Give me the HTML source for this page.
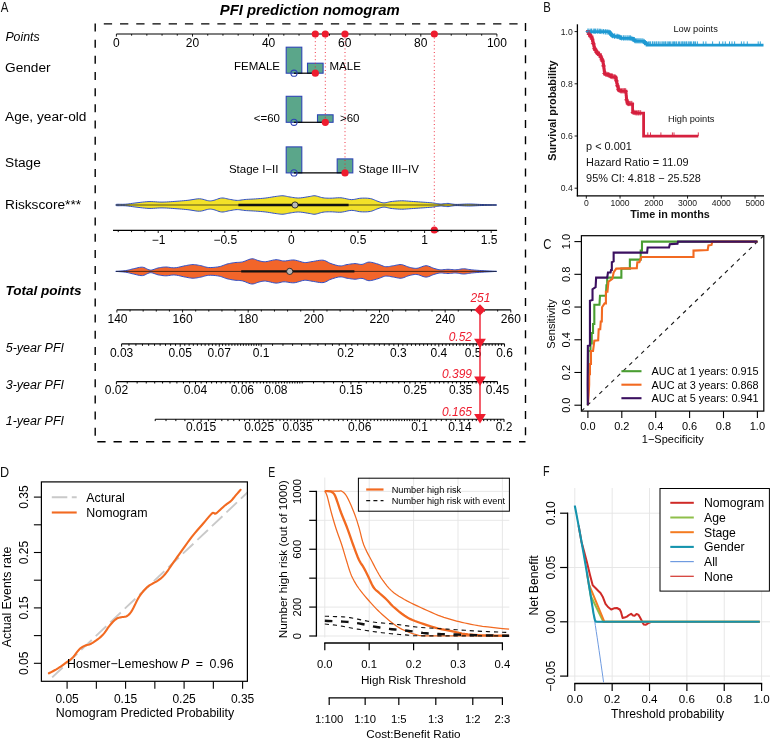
<!DOCTYPE html>
<html><head><meta charset="utf-8"><title>PFI prediction nomogram</title>
<style>
html,body{margin:0;padding:0;background:#fff;}
svg{display:block;font-family:"Liberation Sans",sans-serif;}
</style></head><body>
<svg width="770" height="738" viewBox="0 0 770 738">
<rect x="0" y="0" width="770" height="738" fill="#fff"/>
<g id="panelA">
<text transform="translate(0.8 11.9) scale(0.82 1)" font-size="14" fill="#111">A</text>
<text x="309.7" y="15.3" font-size="14.85" text-anchor="middle" fill="#000" font-weight="bold" font-style="italic" >PFI prediction nomogram</text>
<line x1="103.8" y1="23.9" x2="525.5" y2="23.9" stroke="#000" stroke-width="1.4" stroke-dasharray="8.3 7.92"/>
<line x1="95.2" y1="23.5" x2="95.2" y2="437" stroke="#000" stroke-width="1.4" stroke-dasharray="8 8.17"/>
<line x1="525.5" y1="23" x2="525.5" y2="441.8" stroke="#000" stroke-width="1.4" stroke-dasharray="8 8.17"/>
<line x1="97.3" y1="441.8" x2="525.5" y2="441.8" stroke="#000" stroke-width="1.4" stroke-dasharray="8.3 7.92"/>
<line x1="116.4" y1="34" x2="496.9" y2="34" stroke="#000" stroke-width="1.1" />
<line x1="116.4" y1="34" x2="116.4" y2="36.6" stroke="#000" stroke-width="0.9" />
<line x1="131.62" y1="34" x2="131.62" y2="35.7" stroke="#000" stroke-width="0.9" />
<line x1="146.84" y1="34" x2="146.84" y2="35.7" stroke="#000" stroke-width="0.9" />
<line x1="162.06" y1="34" x2="162.06" y2="35.7" stroke="#000" stroke-width="0.9" />
<line x1="177.28" y1="34" x2="177.28" y2="35.7" stroke="#000" stroke-width="0.9" />
<line x1="192.5" y1="34" x2="192.5" y2="36.6" stroke="#000" stroke-width="0.9" />
<line x1="207.72" y1="34" x2="207.72" y2="35.7" stroke="#000" stroke-width="0.9" />
<line x1="222.94" y1="34" x2="222.94" y2="35.7" stroke="#000" stroke-width="0.9" />
<line x1="238.16" y1="34" x2="238.16" y2="35.7" stroke="#000" stroke-width="0.9" />
<line x1="253.38" y1="34" x2="253.38" y2="35.7" stroke="#000" stroke-width="0.9" />
<line x1="268.6" y1="34" x2="268.6" y2="36.6" stroke="#000" stroke-width="0.9" />
<line x1="283.82" y1="34" x2="283.82" y2="35.7" stroke="#000" stroke-width="0.9" />
<line x1="299.04" y1="34" x2="299.04" y2="35.7" stroke="#000" stroke-width="0.9" />
<line x1="314.26" y1="34" x2="314.26" y2="35.7" stroke="#000" stroke-width="0.9" />
<line x1="329.48" y1="34" x2="329.48" y2="35.7" stroke="#000" stroke-width="0.9" />
<line x1="344.7" y1="34" x2="344.7" y2="36.6" stroke="#000" stroke-width="0.9" />
<line x1="359.92" y1="34" x2="359.92" y2="35.7" stroke="#000" stroke-width="0.9" />
<line x1="375.14" y1="34" x2="375.14" y2="35.7" stroke="#000" stroke-width="0.9" />
<line x1="390.36" y1="34" x2="390.36" y2="35.7" stroke="#000" stroke-width="0.9" />
<line x1="405.58" y1="34" x2="405.58" y2="35.7" stroke="#000" stroke-width="0.9" />
<line x1="420.8" y1="34" x2="420.8" y2="36.6" stroke="#000" stroke-width="0.9" />
<line x1="436.02" y1="34" x2="436.02" y2="35.7" stroke="#000" stroke-width="0.9" />
<line x1="451.24" y1="34" x2="451.24" y2="35.7" stroke="#000" stroke-width="0.9" />
<line x1="466.46" y1="34" x2="466.46" y2="35.7" stroke="#000" stroke-width="0.9" />
<line x1="481.68" y1="34" x2="481.68" y2="35.7" stroke="#000" stroke-width="0.9" />
<line x1="496.9" y1="34" x2="496.9" y2="36.6" stroke="#000" stroke-width="0.9" />
<text x="116.4" y="46.7" font-size="12" text-anchor="middle" fill="#000" font-weight="normal" font-style="normal" >0</text>
<text x="192.5" y="46.7" font-size="12" text-anchor="middle" fill="#000" font-weight="normal" font-style="normal" >20</text>
<text x="268.6" y="46.7" font-size="12" text-anchor="middle" fill="#000" font-weight="normal" font-style="normal" >40</text>
<text x="344.7" y="46.7" font-size="12" text-anchor="middle" fill="#000" font-weight="normal" font-style="normal" >60</text>
<text x="420.8" y="46.7" font-size="12" text-anchor="middle" fill="#000" font-weight="normal" font-style="normal" >80</text>
<text x="496.9" y="46.7" font-size="12" text-anchor="middle" fill="#000" font-weight="normal" font-style="normal" >100</text>
<text x="5.4" y="40.8" font-size="12.35" text-anchor="start" fill="#000" font-weight="normal" font-style="italic" >Points</text>
<text x="5" y="72.2" font-size="13.7" text-anchor="start" fill="#000" font-weight="normal" font-style="normal" >Gender</text>
<text x="5" y="121" font-size="13.7" text-anchor="start" fill="#000" font-weight="normal" font-style="normal" >Age, year-old</text>
<text x="5" y="167.4" font-size="13.7" text-anchor="start" fill="#000" font-weight="normal" font-style="normal" >Stage</text>
<text x="5" y="208.5" font-size="13.7" text-anchor="start" fill="#000" font-weight="normal" font-style="normal" >Riskscore***</text>
<text x="5.4" y="294.6" font-size="13.55" text-anchor="start" fill="#000" font-weight="bold" font-style="italic" >Total points</text>
<text x="5.7" y="352.3" font-size="12.5" text-anchor="start" fill="#000" font-weight="normal" font-style="italic" >5-year PFI</text>
<text x="5.7" y="388.6" font-size="12.5" text-anchor="start" fill="#000" font-weight="normal" font-style="italic" >3-year PFI</text>
<text x="5.7" y="424.5" font-size="12.5" text-anchor="start" fill="#000" font-weight="normal" font-style="italic" >1-year PFI</text>
<rect x="286.2" y="47.2" width="15.6" height="26" fill="#5ba68a" stroke="#2f45b5" stroke-width="1.1"/>
<rect x="307.5" y="63.2" width="15.6" height="10" fill="#5ba68a" stroke="#2f45b5" stroke-width="1.1"/>
<line x1="294" y1="73.2" x2="315.3" y2="73.2" stroke="#000" stroke-width="1.2" />
<circle cx="294" cy="73.2" r="3.1" fill="none" stroke="#2f45b5" stroke-width="1.1"/>
<text x="280" y="69.6" font-size="11.5" text-anchor="end" fill="#000" font-weight="normal" font-style="normal" >FEMALE</text>
<text x="329.5" y="69.6" font-size="11.5" text-anchor="start" fill="#000" font-weight="normal" font-style="normal" >MALE</text>
<rect x="286.2" y="96.3" width="15.6" height="26" fill="#5ba68a" stroke="#2f45b5" stroke-width="1.1"/>
<rect x="317.5" y="114.8" width="15.6" height="7.5" fill="#5ba68a" stroke="#2f45b5" stroke-width="1.1"/>
<line x1="294" y1="122.3" x2="325.3" y2="122.3" stroke="#000" stroke-width="1.2" />
<circle cx="294" cy="122.3" r="3.1" fill="none" stroke="#2f45b5" stroke-width="1.1"/>
<text x="280" y="122" font-size="11.5" text-anchor="end" fill="#000" font-weight="normal" font-style="normal" >&lt;=60</text>
<text x="340" y="122" font-size="11.5" text-anchor="start" fill="#000" font-weight="normal" font-style="normal" >&gt;60</text>
<rect x="286.2" y="146.9" width="15.6" height="26" fill="#5ba68a" stroke="#2f45b5" stroke-width="1.1"/>
<rect x="337.2" y="158.9" width="15.6" height="14" fill="#5ba68a" stroke="#2f45b5" stroke-width="1.1"/>
<line x1="294" y1="172.9" x2="345" y2="172.9" stroke="#000" stroke-width="1.2" />
<circle cx="294" cy="172.9" r="3.1" fill="none" stroke="#2f45b5" stroke-width="1.1"/>
<text x="278.5" y="173.3" font-size="11.5" text-anchor="end" fill="#000" font-weight="normal" font-style="normal" >Stage I−II</text>
<text x="358.5" y="173.3" font-size="11.5" text-anchor="start" fill="#000" font-weight="normal" font-style="normal" >Stage III−IV</text>
<line x1="315.3" y1="34" x2="315.3" y2="73.2" stroke="#ee1c2e" stroke-width="0.9" stroke-dasharray="1 2.6"/>
<line x1="325.3" y1="34" x2="325.3" y2="122.3" stroke="#ee1c2e" stroke-width="0.9" stroke-dasharray="1 2.6"/>
<line x1="345" y1="34" x2="345" y2="172.9" stroke="#ee1c2e" stroke-width="0.9" stroke-dasharray="1 2.6"/>
<line x1="434.3" y1="34" x2="434.3" y2="230" stroke="#ee1c2e" stroke-width="0.9" stroke-dasharray="1 2.6"/>
<circle cx="315.3" cy="34" r="3.6" fill="#ee1c2e"/>
<circle cx="325.3" cy="34" r="3.6" fill="#ee1c2e"/>
<circle cx="345" cy="34" r="3.6" fill="#ee1c2e"/>
<circle cx="434.3" cy="34" r="3.6" fill="#ee1c2e"/>
<circle cx="315.3" cy="73.2" r="3.6" fill="#ee1c2e"/>
<circle cx="325.3" cy="122.3" r="3.6" fill="#ee1c2e"/>
<circle cx="345" cy="172.9" r="3.6" fill="#ee1c2e"/>
<circle cx="434.3" cy="230" r="3.6" fill="#ee1c2e"/>
<path d="M115.7 205 L115.76 204.92 L115.77 204.8 L115.81 204.66 L115.98 204.51 L116.35 204.39 L117 204.3 L117.99 204.26 L119.26 204.27 L120.73 204.29 L122.33 204.3 L123.98 204.28 L125.6 204.2 L127.2 204.05 L128.84 203.86 L130.52 203.62 L132.27 203.38 L134.1 203.13 L136 202.9 L138.02 202.66 L140.14 202.4 L142.34 202.14 L144.57 201.9 L146.8 201.71 L149 201.6 L151.17 201.59 L153.34 201.68 L155.51 201.81 L157.67 201.96 L159.84 202.07 L162 202.1 L164.15 202.06 L166.3 201.97 L168.45 201.85 L170.6 201.71 L172.75 201.55 L174.9 201.4 L177.08 201.24 L179.27 201.08 L181.47 200.9 L183.66 200.71 L185.81 200.51 L187.9 200.3 L189.96 200.03 L191.99 199.7 L193.99 199.36 L195.94 199.06 L197.82 198.85 L199.6 198.8 L201.31 198.96 L202.97 199.3 L204.56 199.74 L206.05 200.19 L207.44 200.57 L208.7 200.8 L209.76 200.88 L210.63 200.89 L211.38 200.82 L212.12 200.69 L212.93 200.52 L213.9 200.3 L215.05 199.98 L216.31 199.53 L217.64 199.04 L219 198.57 L220.37 198.2 L221.7 198 L223 198.01 L224.3 198.17 L225.6 198.44 L226.9 198.75 L228.2 199.05 L229.5 199.3 L230.8 199.52 L232.1 199.76 L233.4 199.99 L234.7 200.19 L236 200.33 L237.3 200.4 L238.57 200.36 L239.8 200.24 L241.04 200.06 L242.31 199.85 L243.65 199.66 L245.1 199.5 L246.68 199.39 L248.38 199.29 L250.14 199.2 L251.94 199.11 L253.74 199.01 L255.5 198.9 L257.22 198.78 L258.94 198.65 L260.65 198.51 L262.36 198.36 L264.08 198.19 L265.8 198 L267.57 197.76 L269.39 197.48 L271.22 197.18 L273 196.89 L274.67 196.62 L276.2 196.4 L277.54 196.22 L278.73 196.06 L279.81 195.93 L280.85 195.83 L281.9 195.78 L283 195.8 L284.14 195.9 L285.26 196.07 L286.38 196.3 L287.53 196.55 L288.73 196.79 L290 197 L291.33 197.21 L292.71 197.44 L294.14 197.66 L295.61 197.85 L297.13 197.97 L298.7 198 L300.39 197.9 L302.21 197.69 L304.08 197.41 L305.9 197.11 L307.61 196.83 L309.1 196.6 L310.32 196.4 L311.32 196.19 L312.2 195.99 L313.04 195.84 L313.95 195.76 L315 195.8 L316.21 195.99 L317.51 196.32 L318.87 196.72 L320.26 197.15 L321.64 197.53 L323 197.8 L324.31 197.97 L325.59 198.08 L326.88 198.15 L328.19 198.19 L329.55 198.2 L331 198.2 L332.55 198.15 L334.17 198.04 L335.84 197.91 L337.56 197.8 L339.28 197.75 L341 197.8 L342.73 198.01 L344.5 198.36 L346.28 198.76 L348.06 199.16 L349.8 199.46 L351.5 199.6 L353.14 199.53 L354.74 199.3 L356.31 198.99 L357.87 198.65 L359.43 198.37 L361 198.2 L362.61 198.13 L364.24 198.11 L365.88 198.14 L367.48 198.22 L369.03 198.37 L370.5 198.6 L371.88 198.94 L373.2 199.4 L374.47 199.93 L375.69 200.47 L376.86 200.98 L378 201.4 L379.08 201.76 L380.07 202.1 L381.03 202.41 L381.98 202.66 L382.96 202.83 L384 202.9 L385.07 202.84 L386.14 202.66 L387.23 202.39 L388.39 202.1 L389.63 201.82 L391 201.6 L392.52 201.42 L394.19 201.24 L395.94 201.08 L397.74 200.94 L399.54 200.85 L401.3 200.8 L403.03 200.82 L404.76 200.89 L406.49 201.01 L408.23 201.14 L409.97 201.28 L411.7 201.4 L413.43 201.51 L415.17 201.62 L416.9 201.74 L418.63 201.86 L420.37 201.98 L422.1 202.1 L423.86 202.22 L425.66 202.35 L427.46 202.47 L429.23 202.61 L430.92 202.75 L432.5 202.9 L433.95 203.09 L435.3 203.31 L436.57 203.54 L437.8 203.75 L439.04 203.91 L440.3 204 L441.59 203.98 L442.87 203.87 L444.15 203.71 L445.43 203.54 L446.71 203.43 L448 203.4 L449.23 203.49 L450.4 203.67 L451.57 203.89 L452.81 204.11 L454.2 204.3 L455.8 204.4 L457.67 204.4 L459.75 204.34 L461.98 204.23 L464.27 204.12 L466.57 204.03 L468.8 204 L470.95 204.03 L473.07 204.1 L475.19 204.19 L477.33 204.3 L479.53 204.41 L481.8 204.5 L484.33 204.59 L487.15 204.69 L490.01 204.78 L492.7 204.87 L494.97 204.95 L496.6 205 L496.6 205 L494.97 205.05 L492.7 205.13 L490.01 205.22 L487.15 205.31 L484.33 205.41 L481.8 205.5 L479.53 205.59 L477.33 205.7 L475.19 205.81 L473.07 205.9 L470.95 205.97 L468.8 206 L466.57 205.97 L464.27 205.88 L461.98 205.77 L459.75 205.66 L457.67 205.6 L455.8 205.6 L454.2 205.7 L452.81 205.89 L451.57 206.11 L450.4 206.33 L449.23 206.51 L448 206.6 L446.71 206.57 L445.43 206.46 L444.15 206.29 L442.87 206.13 L441.59 206.02 L440.3 206 L439.04 206.09 L437.8 206.25 L436.57 206.46 L435.3 206.69 L433.95 206.91 L432.5 207.1 L430.92 207.25 L429.23 207.39 L427.46 207.53 L425.66 207.65 L423.86 207.78 L422.1 207.9 L420.37 208.02 L418.63 208.14 L416.9 208.26 L415.17 208.38 L413.43 208.49 L411.7 208.6 L409.97 208.72 L408.23 208.86 L406.49 208.99 L404.76 209.11 L403.03 209.18 L401.3 209.2 L399.54 209.15 L397.74 209.06 L395.94 208.92 L394.19 208.76 L392.52 208.58 L391 208.4 L389.63 208.18 L388.39 207.9 L387.23 207.61 L386.14 207.34 L385.07 207.16 L384 207.1 L382.96 207.17 L381.98 207.34 L381.03 207.59 L380.07 207.9 L379.08 208.24 L378 208.6 L376.86 209.02 L375.69 209.53 L374.47 210.07 L373.2 210.6 L371.88 211.06 L370.5 211.4 L369.03 211.63 L367.48 211.78 L365.88 211.86 L364.24 211.89 L362.61 211.87 L361 211.8 L359.43 211.63 L357.87 211.35 L356.31 211.01 L354.74 210.7 L353.14 210.47 L351.5 210.4 L349.8 210.54 L348.06 210.84 L346.28 211.24 L344.5 211.64 L342.73 211.99 L341 212.2 L339.28 212.25 L337.56 212.2 L335.84 212.09 L334.17 211.96 L332.55 211.85 L331 211.8 L329.55 211.8 L328.19 211.81 L326.88 211.85 L325.59 211.92 L324.31 212.03 L323 212.2 L321.64 212.47 L320.26 212.85 L318.87 213.28 L317.51 213.68 L316.21 214.01 L315 214.2 L313.95 214.24 L313.04 214.16 L312.2 214.01 L311.32 213.81 L310.32 213.6 L309.1 213.4 L307.61 213.17 L305.9 212.89 L304.08 212.59 L302.21 212.31 L300.39 212.1 L298.7 212 L297.13 212.03 L295.61 212.15 L294.14 212.34 L292.71 212.56 L291.33 212.79 L290 213 L288.73 213.21 L287.53 213.45 L286.38 213.7 L285.26 213.93 L284.14 214.1 L283 214.2 L281.9 214.22 L280.85 214.17 L279.81 214.07 L278.73 213.94 L277.54 213.78 L276.2 213.6 L274.67 213.38 L273 213.11 L271.22 212.82 L269.39 212.52 L267.57 212.24 L265.8 212 L264.08 211.81 L262.36 211.64 L260.65 211.49 L258.94 211.35 L257.22 211.22 L255.5 211.1 L253.74 210.99 L251.94 210.89 L250.14 210.8 L248.38 210.71 L246.68 210.61 L245.1 210.5 L243.65 210.34 L242.31 210.15 L241.04 209.94 L239.8 209.76 L238.57 209.64 L237.3 209.6 L236 209.67 L234.7 209.81 L233.4 210.01 L232.1 210.24 L230.8 210.48 L229.5 210.7 L228.2 210.95 L226.9 211.25 L225.6 211.56 L224.3 211.83 L223 211.99 L221.7 212 L220.37 211.8 L219 211.43 L217.64 210.96 L216.31 210.47 L215.05 210.02 L213.9 209.7 L212.93 209.48 L212.12 209.31 L211.38 209.18 L210.63 209.11 L209.76 209.12 L208.7 209.2 L207.44 209.43 L206.05 209.81 L204.56 210.26 L202.97 210.7 L201.31 211.04 L199.6 211.2 L197.82 211.15 L195.94 210.94 L193.99 210.64 L191.99 210.3 L189.96 209.97 L187.9 209.7 L185.81 209.49 L183.66 209.29 L181.47 209.1 L179.27 208.92 L177.08 208.76 L174.9 208.6 L172.75 208.45 L170.6 208.29 L168.45 208.15 L166.3 208.03 L164.15 207.94 L162 207.9 L159.84 207.93 L157.67 208.04 L155.51 208.19 L153.34 208.32 L151.17 208.41 L149 208.4 L146.8 208.29 L144.57 208.1 L142.34 207.86 L140.14 207.6 L138.02 207.34 L136 207.1 L134.1 206.87 L132.27 206.62 L130.52 206.38 L128.84 206.14 L127.2 205.95 L125.6 205.8 L123.98 205.72 L122.33 205.7 L120.73 205.71 L119.26 205.73 L117.99 205.74 L117 205.7 L116.35 205.61 L115.98 205.49 L115.81 205.34 L115.77 205.2 L115.76 205.08 L115.7 205Z" fill="#f3e128" stroke="#3050c8" stroke-width="1" stroke-linejoin="round"/>
<line x1="116" y1="205" x2="496.6" y2="205" stroke="#111" stroke-width="0.7" />
<line x1="238.4" y1="205" x2="348.6" y2="205" stroke="#111" stroke-width="2.3" />
<circle cx="295" cy="205" r="3.1" fill="#b9b9b9" stroke="#111" stroke-width="0.8"/>
<path d="M115.7 271.4 L116.8 271.32 L118.34 271.23 L120.16 271.11 L122.09 270.97 L123.96 270.8 L125.6 270.6 L127.01 270.36 L128.31 270.07 L129.55 269.75 L130.78 269.42 L132.05 269.1 L133.4 268.8 L134.86 268.47 L136.39 268.09 L137.95 267.71 L139.51 267.39 L141.04 267.2 L142.5 267.2 L143.88 267.48 L145.2 268.02 L146.49 268.68 L147.76 269.34 L149.02 269.85 L150.3 270.1 L151.59 270.03 L152.87 269.73 L154.15 269.29 L155.43 268.8 L156.71 268.34 L158 268 L159.28 267.75 L160.54 267.52 L161.81 267.32 L163.1 267.16 L164.42 267.05 L165.8 267 L167.23 267.06 L168.69 267.24 L170.19 267.47 L171.72 267.68 L173.29 267.81 L174.9 267.8 L176.59 267.61 L178.37 267.28 L180.18 266.87 L181.98 266.43 L183.7 266.03 L185.3 265.7 L186.75 265.43 L188.09 265.18 L189.36 264.95 L190.6 264.77 L191.83 264.64 L193.1 264.6 L194.4 264.65 L195.7 264.78 L197 264.97 L198.3 265.2 L199.6 265.45 L200.9 265.7 L202.17 265.99 L203.4 266.34 L204.64 266.72 L205.91 267.07 L207.25 267.34 L208.7 267.5 L210.31 267.54 L212.07 267.49 L213.9 267.38 L215.73 267.2 L217.49 266.97 L219.1 266.7 L220.55 266.36 L221.89 265.93 L223.16 265.44 L224.4 264.95 L225.63 264.49 L226.9 264.1 L228.2 263.78 L229.5 263.49 L230.8 263.23 L232.1 263 L233.4 262.79 L234.7 262.6 L235.98 262.46 L237.24 262.4 L238.51 262.35 L239.79 262.28 L241.11 262.15 L242.5 261.9 L243.99 261.46 L245.57 260.86 L247.19 260.18 L248.8 259.54 L250.35 259.05 L251.8 258.8 L253.13 258.85 L254.38 259.13 L255.58 259.55 L256.73 260.03 L257.86 260.47 L259 260.8 L260.08 261.05 L261.07 261.29 L262.04 261.5 L263.06 261.66 L264.19 261.73 L265.5 261.7 L267.05 261.5 L268.8 261.13 L270.66 260.67 L272.54 260.23 L274.35 259.88 L276 259.7 L277.45 259.75 L278.78 259.97 L280.03 260.29 L281.28 260.61 L282.58 260.88 L284 261 L285.55 260.93 L287.17 260.71 L288.86 260.42 L290.57 260.16 L292.29 259.99 L294 260 L295.73 260.25 L297.51 260.7 L299.29 261.24 L301.05 261.79 L302.73 262.24 L304.3 262.5 L305.7 262.55 L306.94 262.47 L308.11 262.29 L309.29 262.06 L310.56 261.82 L312 261.6 L313.68 261.34 L315.53 260.99 L317.48 260.63 L319.43 260.33 L321.3 260.16 L323 260.2 L324.5 260.5 L325.85 261.02 L327.12 261.67 L328.37 262.37 L329.64 263.04 L331 263.6 L332.47 264.09 L334 264.58 L335.56 265.04 L337.11 265.44 L338.6 265.74 L340 265.9 L341.27 265.89 L342.44 265.72 L343.56 265.46 L344.67 265.14 L345.8 264.84 L347 264.6 L348.29 264.4 L349.63 264.18 L351 263.97 L352.37 263.79 L353.71 263.66 L355 263.6 L356.22 263.67 L357.41 263.85 L358.56 264.08 L359.7 264.3 L360.84 264.43 L362 264.4 L363.14 264.15 L364.26 263.7 L365.38 263.17 L366.52 262.66 L367.72 262.27 L369 262.1 L370.4 262.18 L371.9 262.43 L373.46 262.79 L375.02 263.23 L376.55 263.68 L378 264.1 L379.36 264.54 L380.66 265.06 L381.92 265.59 L383.17 266.08 L384.43 266.47 L385.7 266.7 L386.99 266.74 L388.29 266.64 L389.59 266.43 L390.9 266.17 L392.2 265.91 L393.5 265.7 L394.8 265.48 L396.1 265.2 L397.4 264.92 L398.7 264.7 L400 264.57 L401.3 264.6 L402.6 264.84 L403.9 265.25 L405.2 265.76 L406.5 266.31 L407.8 266.81 L409.1 267.2 L410.38 267.51 L411.65 267.81 L412.92 268.07 L414.2 268.26 L415.52 268.35 L416.9 268.3 L418.36 268.02 L419.89 267.51 L421.45 266.91 L423.01 266.32 L424.54 265.88 L426 265.7 L427.39 265.85 L428.74 266.22 L430.06 266.74 L431.34 267.32 L432.59 267.87 L433.8 268.3 L434.94 268.64 L436.02 268.96 L437.06 269.24 L438.09 269.49 L439.16 269.68 L440.3 269.8 L441.51 269.82 L442.77 269.74 L444.07 269.61 L445.38 269.47 L446.7 269.35 L448 269.3 L449.29 269.34 L450.59 269.45 L451.89 269.58 L453.2 269.71 L454.5 269.79 L455.8 269.8 L457.1 269.7 L458.4 269.5 L459.7 269.27 L461 269.04 L462.3 268.87 L463.6 268.8 L464.87 268.85 L466.1 268.99 L467.34 269.19 L468.61 269.41 L469.95 269.62 L471.4 269.8 L472.93 269.94 L474.51 270.08 L476.16 270.21 L477.91 270.34 L479.78 270.47 L481.8 270.6 L484.18 270.74 L486.96 270.9 L489.85 271.05 L492.6 271.19 L494.94 271.31 L496.6 271.4 L496.6 271.4 L494.94 271.49 L492.6 271.61 L489.85 271.75 L486.96 271.9 L484.18 272.06 L481.8 272.2 L479.78 272.33 L477.91 272.46 L476.16 272.59 L474.51 272.72 L472.93 272.86 L471.4 273 L469.95 273.18 L468.61 273.39 L467.34 273.61 L466.1 273.81 L464.87 273.95 L463.6 274 L462.3 273.93 L461 273.76 L459.7 273.53 L458.4 273.3 L457.1 273.1 L455.8 273 L454.5 273.01 L453.2 273.09 L451.89 273.22 L450.59 273.35 L449.29 273.46 L448 273.5 L446.7 273.45 L445.38 273.33 L444.07 273.19 L442.77 273.06 L441.51 272.98 L440.3 273 L439.16 273.12 L438.09 273.31 L437.06 273.56 L436.02 273.84 L434.94 274.16 L433.8 274.5 L432.59 274.93 L431.34 275.48 L430.06 276.06 L428.74 276.58 L427.39 276.95 L426 277.1 L424.54 276.92 L423.01 276.48 L421.45 275.89 L419.89 275.29 L418.36 274.78 L416.9 274.5 L415.52 274.45 L414.2 274.54 L412.92 274.72 L411.65 274.99 L410.38 275.29 L409.1 275.6 L407.8 275.99 L406.5 276.49 L405.2 277.04 L403.9 277.55 L402.6 277.96 L401.3 278.2 L400 278.23 L398.7 278.1 L397.4 277.88 L396.1 277.6 L394.8 277.32 L393.5 277.1 L392.2 276.89 L390.9 276.63 L389.59 276.37 L388.29 276.16 L386.99 276.06 L385.7 276.1 L384.43 276.33 L383.17 276.72 L381.92 277.21 L380.66 277.74 L379.36 278.26 L378 278.7 L376.55 279.12 L375.02 279.57 L373.46 280.01 L371.9 280.37 L370.4 280.62 L369 280.7 L367.72 280.53 L366.52 280.14 L365.38 279.62 L364.26 279.1 L363.14 278.65 L362 278.4 L360.84 278.37 L359.7 278.5 L358.56 278.72 L357.41 278.95 L356.22 279.13 L355 279.2 L353.71 279.14 L352.37 279.01 L351 278.83 L349.63 278.62 L348.29 278.4 L347 278.2 L345.8 277.96 L344.67 277.66 L343.56 277.34 L342.44 277.08 L341.27 276.91 L340 276.9 L338.6 277.06 L337.11 277.36 L335.56 277.76 L334 278.22 L332.47 278.71 L331 279.2 L329.64 279.76 L328.37 280.43 L327.12 281.13 L325.85 281.78 L324.5 282.3 L323 282.6 L321.3 282.64 L319.43 282.47 L317.48 282.17 L315.53 281.81 L313.68 281.46 L312 281.2 L310.56 280.98 L309.29 280.74 L308.11 280.51 L306.94 280.33 L305.7 280.25 L304.3 280.3 L302.73 280.56 L301.05 281.01 L299.29 281.56 L297.51 282.1 L295.73 282.55 L294 282.8 L292.29 282.81 L290.57 282.64 L288.86 282.38 L287.17 282.09 L285.55 281.87 L284 281.8 L282.58 281.92 L281.28 282.19 L280.03 282.51 L278.78 282.83 L277.45 283.05 L276 283.1 L274.35 282.92 L272.54 282.57 L270.66 282.12 L268.8 281.67 L267.05 281.3 L265.5 281.1 L264.19 281.07 L263.06 281.14 L262.04 281.3 L261.07 281.51 L260.08 281.75 L259 282 L257.86 282.33 L256.73 282.77 L255.58 283.25 L254.38 283.67 L253.13 283.95 L251.8 284 L250.35 283.75 L248.8 283.26 L247.19 282.62 L245.57 281.94 L243.99 281.34 L242.5 280.9 L241.11 280.65 L239.79 280.52 L238.51 280.45 L237.24 280.4 L235.98 280.34 L234.7 280.2 L233.4 280.01 L232.1 279.8 L230.8 279.57 L229.5 279.31 L228.2 279.02 L226.9 278.7 L225.63 278.31 L224.4 277.85 L223.16 277.36 L221.89 276.87 L220.55 276.44 L219.1 276.1 L217.49 275.83 L215.73 275.6 L213.9 275.42 L212.07 275.31 L210.31 275.26 L208.7 275.3 L207.25 275.46 L205.91 275.73 L204.64 276.08 L203.4 276.46 L202.17 276.81 L200.9 277.1 L199.6 277.35 L198.3 277.6 L197 277.83 L195.7 278.02 L194.4 278.15 L193.1 278.2 L191.83 278.16 L190.6 278.03 L189.36 277.85 L188.09 277.62 L186.75 277.37 L185.3 277.1 L183.7 276.77 L181.98 276.37 L180.18 275.93 L178.37 275.52 L176.59 275.19 L174.9 275 L173.29 274.99 L171.72 275.12 L170.19 275.33 L168.69 275.56 L167.23 275.74 L165.8 275.8 L164.42 275.75 L163.1 275.64 L161.81 275.48 L160.54 275.28 L159.28 275.05 L158 274.8 L156.71 274.46 L155.43 274 L154.15 273.51 L152.87 273.07 L151.59 272.77 L150.3 272.7 L149.02 272.95 L147.76 273.46 L146.49 274.12 L145.2 274.78 L143.88 275.32 L142.5 275.6 L141.04 275.6 L139.51 275.41 L137.95 275.09 L136.39 274.71 L134.86 274.33 L133.4 274 L132.05 273.7 L130.78 273.38 L129.55 273.05 L128.31 272.73 L127.01 272.44 L125.6 272.2 L123.96 272 L122.09 271.83 L120.16 271.69 L118.34 271.57 L116.8 271.48 L115.7 271.4Z" fill="#f2652a" stroke="#3050c8" stroke-width="1" stroke-linejoin="round"/>
<line x1="116" y1="271.4" x2="496.6" y2="271.4" stroke="#111" stroke-width="0.7" />
<line x1="241.2" y1="271.4" x2="354.4" y2="271.4" stroke="#111" stroke-width="2.3" />
<circle cx="289.7" cy="271.4" r="3.1" fill="#b9b9b9" stroke="#111" stroke-width="0.8"/>
<line x1="113" y1="230.4" x2="497.1" y2="230.4" stroke="#000" stroke-width="1.1" />
<line x1="118.24" y1="230.4" x2="118.24" y2="232.1" stroke="#000" stroke-width="0.9" />
<line x1="131.56" y1="230.4" x2="131.56" y2="232.1" stroke="#000" stroke-width="0.9" />
<line x1="144.88" y1="230.4" x2="144.88" y2="232.1" stroke="#000" stroke-width="0.9" />
<line x1="158.2" y1="230.4" x2="158.2" y2="233" stroke="#000" stroke-width="0.9" />
<line x1="171.52" y1="230.4" x2="171.52" y2="232.1" stroke="#000" stroke-width="0.9" />
<line x1="184.84" y1="230.4" x2="184.84" y2="232.1" stroke="#000" stroke-width="0.9" />
<line x1="198.16" y1="230.4" x2="198.16" y2="232.1" stroke="#000" stroke-width="0.9" />
<line x1="211.48" y1="230.4" x2="211.48" y2="232.1" stroke="#000" stroke-width="0.9" />
<line x1="224.8" y1="230.4" x2="224.8" y2="233" stroke="#000" stroke-width="0.9" />
<line x1="238.12" y1="230.4" x2="238.12" y2="232.1" stroke="#000" stroke-width="0.9" />
<line x1="251.44" y1="230.4" x2="251.44" y2="232.1" stroke="#000" stroke-width="0.9" />
<line x1="264.76" y1="230.4" x2="264.76" y2="232.1" stroke="#000" stroke-width="0.9" />
<line x1="278.08" y1="230.4" x2="278.08" y2="232.1" stroke="#000" stroke-width="0.9" />
<line x1="291.4" y1="230.4" x2="291.4" y2="233" stroke="#000" stroke-width="0.9" />
<line x1="304.72" y1="230.4" x2="304.72" y2="232.1" stroke="#000" stroke-width="0.9" />
<line x1="318.04" y1="230.4" x2="318.04" y2="232.1" stroke="#000" stroke-width="0.9" />
<line x1="331.36" y1="230.4" x2="331.36" y2="232.1" stroke="#000" stroke-width="0.9" />
<line x1="344.68" y1="230.4" x2="344.68" y2="232.1" stroke="#000" stroke-width="0.9" />
<line x1="358" y1="230.4" x2="358" y2="233" stroke="#000" stroke-width="0.9" />
<line x1="371.32" y1="230.4" x2="371.32" y2="232.1" stroke="#000" stroke-width="0.9" />
<line x1="384.64" y1="230.4" x2="384.64" y2="232.1" stroke="#000" stroke-width="0.9" />
<line x1="397.96" y1="230.4" x2="397.96" y2="232.1" stroke="#000" stroke-width="0.9" />
<line x1="411.28" y1="230.4" x2="411.28" y2="232.1" stroke="#000" stroke-width="0.9" />
<line x1="424.6" y1="230.4" x2="424.6" y2="233" stroke="#000" stroke-width="0.9" />
<line x1="437.92" y1="230.4" x2="437.92" y2="232.1" stroke="#000" stroke-width="0.9" />
<line x1="451.24" y1="230.4" x2="451.24" y2="232.1" stroke="#000" stroke-width="0.9" />
<line x1="464.56" y1="230.4" x2="464.56" y2="232.1" stroke="#000" stroke-width="0.9" />
<line x1="477.88" y1="230.4" x2="477.88" y2="232.1" stroke="#000" stroke-width="0.9" />
<line x1="491.2" y1="230.4" x2="491.2" y2="233" stroke="#000" stroke-width="0.9" />
<text x="158.7" y="243.6" font-size="12" text-anchor="middle" fill="#000" font-weight="normal" font-style="normal" >−1</text>
<text x="225.3" y="243.6" font-size="12" text-anchor="middle" fill="#000" font-weight="normal" font-style="normal" >−0.5</text>
<text x="291.4" y="243.6" font-size="12" text-anchor="middle" fill="#000" font-weight="normal" font-style="normal" >0</text>
<text x="358" y="243.6" font-size="12" text-anchor="middle" fill="#000" font-weight="normal" font-style="normal" >0.5</text>
<text x="424.6" y="243.6" font-size="12" text-anchor="middle" fill="#000" font-weight="normal" font-style="normal" >1</text>
<text x="489.2" y="243.6" font-size="12" text-anchor="middle" fill="#000" font-weight="normal" font-style="normal" >1.5</text>
<line x1="116.9" y1="309.9" x2="510.8" y2="309.9" stroke="#000" stroke-width="1.1" />
<line x1="116.9" y1="309.9" x2="116.9" y2="312.5" stroke="#000" stroke-width="0.9" />
<line x1="130.03" y1="309.9" x2="130.03" y2="311.6" stroke="#000" stroke-width="0.9" />
<line x1="143.16" y1="309.9" x2="143.16" y2="311.6" stroke="#000" stroke-width="0.9" />
<line x1="156.29" y1="309.9" x2="156.29" y2="311.6" stroke="#000" stroke-width="0.9" />
<line x1="169.42" y1="309.9" x2="169.42" y2="311.6" stroke="#000" stroke-width="0.9" />
<line x1="182.55" y1="309.9" x2="182.55" y2="312.5" stroke="#000" stroke-width="0.9" />
<line x1="195.68" y1="309.9" x2="195.68" y2="311.6" stroke="#000" stroke-width="0.9" />
<line x1="208.81" y1="309.9" x2="208.81" y2="311.6" stroke="#000" stroke-width="0.9" />
<line x1="221.94" y1="309.9" x2="221.94" y2="311.6" stroke="#000" stroke-width="0.9" />
<line x1="235.07" y1="309.9" x2="235.07" y2="311.6" stroke="#000" stroke-width="0.9" />
<line x1="248.2" y1="309.9" x2="248.2" y2="312.5" stroke="#000" stroke-width="0.9" />
<line x1="261.33" y1="309.9" x2="261.33" y2="311.6" stroke="#000" stroke-width="0.9" />
<line x1="274.46" y1="309.9" x2="274.46" y2="311.6" stroke="#000" stroke-width="0.9" />
<line x1="287.59" y1="309.9" x2="287.59" y2="311.6" stroke="#000" stroke-width="0.9" />
<line x1="300.72" y1="309.9" x2="300.72" y2="311.6" stroke="#000" stroke-width="0.9" />
<line x1="313.85" y1="309.9" x2="313.85" y2="312.5" stroke="#000" stroke-width="0.9" />
<line x1="326.98" y1="309.9" x2="326.98" y2="311.6" stroke="#000" stroke-width="0.9" />
<line x1="340.11" y1="309.9" x2="340.11" y2="311.6" stroke="#000" stroke-width="0.9" />
<line x1="353.24" y1="309.9" x2="353.24" y2="311.6" stroke="#000" stroke-width="0.9" />
<line x1="366.37" y1="309.9" x2="366.37" y2="311.6" stroke="#000" stroke-width="0.9" />
<line x1="379.5" y1="309.9" x2="379.5" y2="312.5" stroke="#000" stroke-width="0.9" />
<line x1="392.63" y1="309.9" x2="392.63" y2="311.6" stroke="#000" stroke-width="0.9" />
<line x1="405.76" y1="309.9" x2="405.76" y2="311.6" stroke="#000" stroke-width="0.9" />
<line x1="418.89" y1="309.9" x2="418.89" y2="311.6" stroke="#000" stroke-width="0.9" />
<line x1="432.02" y1="309.9" x2="432.02" y2="311.6" stroke="#000" stroke-width="0.9" />
<line x1="445.15" y1="309.9" x2="445.15" y2="312.5" stroke="#000" stroke-width="0.9" />
<line x1="458.28" y1="309.9" x2="458.28" y2="311.6" stroke="#000" stroke-width="0.9" />
<line x1="471.41" y1="309.9" x2="471.41" y2="311.6" stroke="#000" stroke-width="0.9" />
<line x1="484.54" y1="309.9" x2="484.54" y2="311.6" stroke="#000" stroke-width="0.9" />
<line x1="497.67" y1="309.9" x2="497.67" y2="311.6" stroke="#000" stroke-width="0.9" />
<line x1="510.8" y1="309.9" x2="510.8" y2="312.5" stroke="#000" stroke-width="0.9" />
<text x="117.5" y="323.1" font-size="12" text-anchor="middle" fill="#000" font-weight="normal" font-style="normal" >140</text>
<text x="182.55" y="323.1" font-size="12" text-anchor="middle" fill="#000" font-weight="normal" font-style="normal" >160</text>
<text x="248.2" y="323.1" font-size="12" text-anchor="middle" fill="#000" font-weight="normal" font-style="normal" >180</text>
<text x="313.85" y="323.1" font-size="12" text-anchor="middle" fill="#000" font-weight="normal" font-style="normal" >200</text>
<text x="379.5" y="323.1" font-size="12" text-anchor="middle" fill="#000" font-weight="normal" font-style="normal" >220</text>
<text x="445.15" y="323.1" font-size="12" text-anchor="middle" fill="#000" font-weight="normal" font-style="normal" >240</text>
<text x="510.8" y="323.1" font-size="12" text-anchor="middle" fill="#000" font-weight="normal" font-style="normal" >260</text>
<line x1="121.6" y1="343.9" x2="504.54" y2="343.9" stroke="#000" stroke-width="1.1" />
<path d="M121.6 343.9v2.7M128.98 343.9v1.9M135.91 343.9v1.9M142.46 343.9v1.9M148.66 343.9v1.9M154.54 343.9v1.9M160.15 343.9v1.9M165.5 343.9v1.9M170.62 343.9v1.9M175.52 343.9v1.9M180.23 343.9v2.7M184.76 343.9v1.9M189.13 343.9v1.9M193.33 343.9v1.9M197.4 343.9v1.9M201.33 343.9v1.9M205.14 343.9v1.9M208.83 343.9v1.9M212.41 343.9v1.9M215.89 343.9v1.9M219.27 343.9v2.7M222.56 343.9v1.9M225.76 343.9v1.9M228.88 343.9v1.9M231.92 343.9v1.9M234.89 343.9v1.9M237.79 343.9v1.9M240.62 343.9v1.9M243.39 343.9v1.9M246.1 343.9v1.9M248.75 343.9v1.9M251.34 343.9v1.9M253.88 343.9v1.9M256.37 343.9v1.9M258.82 343.9v1.9M261.21 343.9v2.7M272.55 343.9v1.9M282.96 343.9v1.9M292.6 343.9v1.9M301.57 343.9v1.9M309.97 343.9v1.9M317.88 343.9v1.9M325.35 343.9v1.9M332.44 343.9v1.9M339.19 343.9v1.9M345.64 343.9v2.7M351.8 343.9v1.9M357.73 343.9v1.9M363.42 343.9v1.9M368.91 343.9v1.9M374.22 343.9v1.9M379.35 343.9v1.9M384.32 343.9v1.9M389.14 343.9v1.9M393.83 343.9v1.9M398.4 343.9v2.7M402.85 343.9v1.9M407.19 343.9v1.9M411.43 343.9v1.9M415.58 343.9v1.9M419.64 343.9v1.9M423.61 343.9v1.9M427.52 343.9v1.9M431.35 343.9v1.9M435.11 343.9v1.9M438.81 343.9v2.7M442.45 343.9v1.9M446.04 343.9v1.9M449.57 343.9v1.9M453.06 343.9v1.9M456.5 343.9v1.9M459.91 343.9v1.9M463.27 343.9v1.9M466.59 343.9v1.9M469.89 343.9v1.9M473.15 343.9v2.7M476.38 343.9v1.9M479.58 343.9v1.9M482.77 343.9v1.9M485.93 343.9v1.9M489.07 343.9v1.9M492.19 343.9v1.9M495.29 343.9v1.9M498.39 343.9v1.9M501.47 343.9v1.9M504.54 343.9v2.7" stroke="#000" stroke-width="1" fill="none"/>
<text x="121.6" y="357.4" font-size="12" text-anchor="middle" fill="#000" font-weight="normal" font-style="normal" >0.03</text>
<text x="180.23" y="357.4" font-size="12" text-anchor="middle" fill="#000" font-weight="normal" font-style="normal" >0.05</text>
<text x="219.27" y="357.4" font-size="12" text-anchor="middle" fill="#000" font-weight="normal" font-style="normal" >0.07</text>
<text x="261.21" y="357.4" font-size="12" text-anchor="middle" fill="#000" font-weight="normal" font-style="normal" >0.1</text>
<text x="345.64" y="357.4" font-size="12" text-anchor="middle" fill="#000" font-weight="normal" font-style="normal" >0.2</text>
<text x="398.4" y="357.4" font-size="12" text-anchor="middle" fill="#000" font-weight="normal" font-style="normal" >0.3</text>
<text x="438.81" y="357.4" font-size="12" text-anchor="middle" fill="#000" font-weight="normal" font-style="normal" >0.4</text>
<text x="473.15" y="357.4" font-size="12" text-anchor="middle" fill="#000" font-weight="normal" font-style="normal" >0.5</text>
<text x="504.54" y="357.4" font-size="12" text-anchor="middle" fill="#000" font-weight="normal" font-style="normal" >0.6</text>
<line x1="116.4" y1="381.6" x2="497.49" y2="381.6" stroke="#000" stroke-width="1.1" />
<path d="M116.4 381.6v2.7M127.24 381.6v1.9M137.14 381.6v1.9M146.26 381.6v1.9M154.71 381.6v1.9M162.59 381.6v1.9M169.97 381.6v1.9M176.9 381.6v1.9M183.45 381.6v1.9M189.65 381.6v1.9M195.53 381.6v2.7M201.14 381.6v1.9M206.49 381.6v1.9M211.61 381.6v1.9M216.51 381.6v1.9M221.22 381.6v1.9M225.75 381.6v1.9M230.11 381.6v1.9M234.32 381.6v1.9M238.39 381.6v1.9M242.32 381.6v2.7M246.13 381.6v1.9M249.82 381.6v1.9M253.4 381.6v1.9M256.88 381.6v1.9M260.26 381.6v1.9M263.55 381.6v1.9M266.75 381.6v1.9M269.87 381.6v1.9M272.91 381.6v1.9M275.88 381.6v2.7M278.78 381.6v1.9M281.61 381.6v1.9M284.38 381.6v1.9M287.09 381.6v1.9M289.74 381.6v1.9M292.33 381.6v1.9M294.87 381.6v1.9M297.36 381.6v1.9M299.81 381.6v1.9M302.2 381.6v1.9M313.54 381.6v1.9M323.95 381.6v1.9M333.59 381.6v1.9M342.56 381.6v1.9M350.96 381.6v2.7M358.87 381.6v1.9M366.34 381.6v1.9M373.43 381.6v1.9M380.18 381.6v1.9M386.62 381.6v1.9M392.79 381.6v1.9M398.72 381.6v1.9M404.41 381.6v1.9M409.9 381.6v1.9M415.2 381.6v2.7M420.33 381.6v1.9M425.31 381.6v1.9M430.13 381.6v1.9M434.82 381.6v1.9M439.39 381.6v1.9M443.84 381.6v1.9M448.18 381.6v1.9M452.42 381.6v1.9M456.57 381.6v1.9M460.63 381.6v2.7M464.6 381.6v1.9M468.51 381.6v1.9M472.34 381.6v1.9M476.1 381.6v1.9M479.8 381.6v1.9M483.44 381.6v1.9M487.03 381.6v1.9M490.56 381.6v1.9M494.05 381.6v1.9M497.49 381.6v2.7" stroke="#000" stroke-width="1" fill="none"/>
<text x="116.4" y="393.9" font-size="12" text-anchor="middle" fill="#000" font-weight="normal" font-style="normal" >0.02</text>
<text x="195.53" y="393.9" font-size="12" text-anchor="middle" fill="#000" font-weight="normal" font-style="normal" >0.04</text>
<text x="242.32" y="393.9" font-size="12" text-anchor="middle" fill="#000" font-weight="normal" font-style="normal" >0.06</text>
<text x="275.88" y="393.9" font-size="12" text-anchor="middle" fill="#000" font-weight="normal" font-style="normal" >0.08</text>
<text x="350.96" y="393.9" font-size="12" text-anchor="middle" fill="#000" font-weight="normal" font-style="normal" >0.15</text>
<text x="415.2" y="393.9" font-size="12" text-anchor="middle" fill="#000" font-weight="normal" font-style="normal" >0.25</text>
<text x="460.63" y="393.9" font-size="12" text-anchor="middle" fill="#000" font-weight="normal" font-style="normal" >0.35</text>
<text x="497.49" y="393.9" font-size="12" text-anchor="middle" fill="#000" font-weight="normal" font-style="normal" >0.45</text>
<line x1="155.23" y1="419.2" x2="504" y2="419.2" stroke="#000" stroke-width="1.1" />
<path d="M155.23 419.2v1.9M166.01 419.2v1.9M175.85 419.2v1.9M184.91 419.2v1.9M193.31 419.2v1.9M201.13 419.2v2.7M208.44 419.2v1.9M215.32 419.2v1.9M221.81 419.2v1.9M227.95 419.2v1.9M233.78 419.2v1.9M239.32 419.2v1.9M244.61 419.2v1.9M249.67 419.2v1.9M254.52 419.2v1.9M259.17 419.2v2.7M263.64 419.2v1.9M267.94 419.2v1.9M272.09 419.2v1.9M276.09 419.2v1.9M279.96 419.2v1.9M283.71 419.2v1.9M287.34 419.2v1.9M290.86 419.2v1.9M294.28 419.2v1.9M297.6 419.2v2.7M300.82 419.2v1.9M303.96 419.2v1.9M307.02 419.2v1.9M310 419.2v1.9M312.91 419.2v1.9M318.51 419.2v1.9M323.86 419.2v1.9M328.98 419.2v1.9M333.89 419.2v1.9M338.6 419.2v1.9M343.13 419.2v1.9M347.49 419.2v1.9M351.7 419.2v1.9M355.76 419.2v1.9M359.7 419.2v2.7M363.5 419.2v1.9M367.19 419.2v1.9M370.78 419.2v1.9M374.25 419.2v1.9M377.63 419.2v1.9M380.92 419.2v1.9M384.12 419.2v1.9M387.25 419.2v1.9M390.29 419.2v1.9M393.26 419.2v1.9M396.16 419.2v1.9M398.99 419.2v1.9M401.76 419.2v1.9M404.46 419.2v1.9M407.11 419.2v1.9M409.71 419.2v1.9M412.25 419.2v1.9M414.74 419.2v1.9M417.18 419.2v1.9M419.58 419.2v2.7M425.37 419.2v1.9M430.92 419.2v1.9M436.23 419.2v1.9M441.33 419.2v1.9M446.23 419.2v1.9M450.96 419.2v1.9M455.52 419.2v1.9M459.93 419.2v2.7M464.2 419.2v1.9M468.34 419.2v1.9M472.35 419.2v1.9M476.24 419.2v1.9M480.03 419.2v1.9M483.72 419.2v1.9M487.31 419.2v1.9M490.81 419.2v1.9M494.22 419.2v1.9M497.56 419.2v1.9M500.81 419.2v1.9M504 419.2v2.7" stroke="#000" stroke-width="1" fill="none"/>
<text x="201.13" y="431.1" font-size="12" text-anchor="middle" fill="#000" font-weight="normal" font-style="normal" >0.015</text>
<text x="259.17" y="431.1" font-size="12" text-anchor="middle" fill="#000" font-weight="normal" font-style="normal" >0.025</text>
<text x="297.6" y="431.1" font-size="12" text-anchor="middle" fill="#000" font-weight="normal" font-style="normal" >0.035</text>
<text x="359.7" y="431.1" font-size="12" text-anchor="middle" fill="#000" font-weight="normal" font-style="normal" >0.06</text>
<text x="419.58" y="431.1" font-size="12" text-anchor="middle" fill="#000" font-weight="normal" font-style="normal" >0.1</text>
<text x="459.93" y="431.1" font-size="12" text-anchor="middle" fill="#000" font-weight="normal" font-style="normal" >0.14</text>
<text x="504" y="431.1" font-size="12" text-anchor="middle" fill="#000" font-weight="normal" font-style="normal" >0.2</text>
<line x1="480" y1="309.9" x2="480" y2="421" stroke="#ee1c2e" stroke-width="1.4" />
<path d="M480 304.3 L485.5 309.9 L480 315.5 L474.5 309.9Z" fill="#ee1c2e"/>
<path d="M474.1 338.8 L485.9 338.8 L480 348.3Z" fill="#ee1c2e"/>
<path d="M474.1 376.5 L485.9 376.5 L480 386Z" fill="#ee1c2e"/>
<path d="M474.1 414.1 L485.9 414.1 L480 423.6Z" fill="#ee1c2e"/>
<text x="480.4" y="301.7" font-size="12" text-anchor="middle" fill="#ee1c2e" font-weight="normal" font-style="italic" >251</text>
<text x="472" y="340.6" font-size="12" text-anchor="end" fill="#ee1c2e" font-weight="normal" font-style="italic" >0.52</text>
<text x="472" y="377.6" font-size="12" text-anchor="end" fill="#ee1c2e" font-weight="normal" font-style="italic" >0.399</text>
<text x="472" y="415.6" font-size="12" text-anchor="end" fill="#ee1c2e" font-weight="normal" font-style="italic" >0.165</text>
</g>
<g id="panelB">
<text transform="translate(543.2 12) scale(0.81 1)" font-size="14" fill="#111">B</text>
<line x1="577.4" y1="24.3" x2="577.4" y2="196.4" stroke="#000" stroke-width="1.3" />
<line x1="576.8" y1="195.8" x2="764" y2="195.8" stroke="#000" stroke-width="1.3" />
<line x1="574.6" y1="31.6" x2="577.4" y2="31.6" stroke="#000" stroke-width="0.9" />
<text x="572.8" y="34.7" font-size="8.6" text-anchor="end" fill="#1a1a1a" font-weight="normal" font-style="normal" >1.0</text>
<line x1="574.6" y1="83.8" x2="577.4" y2="83.8" stroke="#000" stroke-width="0.9" />
<text x="572.8" y="86.9" font-size="8.6" text-anchor="end" fill="#1a1a1a" font-weight="normal" font-style="normal" >0.8</text>
<line x1="574.6" y1="136" x2="577.4" y2="136" stroke="#000" stroke-width="0.9" />
<text x="572.8" y="139.1" font-size="8.6" text-anchor="end" fill="#1a1a1a" font-weight="normal" font-style="normal" >0.6</text>
<line x1="574.6" y1="188.2" x2="577.4" y2="188.2" stroke="#000" stroke-width="0.9" />
<text x="572.8" y="191.3" font-size="8.6" text-anchor="end" fill="#1a1a1a" font-weight="normal" font-style="normal" >0.4</text>
<line x1="586.3" y1="195.8" x2="586.3" y2="198.6" stroke="#000" stroke-width="0.9" />
<text x="586.3" y="206" font-size="8.6" text-anchor="middle" fill="#1a1a1a" font-weight="normal" font-style="normal" >0</text>
<line x1="620.05" y1="195.8" x2="620.05" y2="198.6" stroke="#000" stroke-width="0.9" />
<text x="620.05" y="206" font-size="8.6" text-anchor="middle" fill="#1a1a1a" font-weight="normal" font-style="normal" >1000</text>
<line x1="653.8" y1="195.8" x2="653.8" y2="198.6" stroke="#000" stroke-width="0.9" />
<text x="653.8" y="206" font-size="8.6" text-anchor="middle" fill="#1a1a1a" font-weight="normal" font-style="normal" >2000</text>
<line x1="687.55" y1="195.8" x2="687.55" y2="198.6" stroke="#000" stroke-width="0.9" />
<text x="687.55" y="206" font-size="8.6" text-anchor="middle" fill="#1a1a1a" font-weight="normal" font-style="normal" >3000</text>
<line x1="721.3" y1="195.8" x2="721.3" y2="198.6" stroke="#000" stroke-width="0.9" />
<text x="721.3" y="206" font-size="8.6" text-anchor="middle" fill="#1a1a1a" font-weight="normal" font-style="normal" >4000</text>
<line x1="755.05" y1="195.8" x2="755.05" y2="198.6" stroke="#000" stroke-width="0.9" />
<text x="755.05" y="206" font-size="8.6" text-anchor="middle" fill="#1a1a1a" font-weight="normal" font-style="normal" >5000</text>
<text x="670" y="218.3" font-size="10.8" text-anchor="middle" fill="#111" font-weight="bold" font-style="normal" >Time in months</text>
<text x="556.2" y="110.6" font-size="10.8" text-anchor="middle" fill="#111" font-weight="bold" font-style="normal" transform="rotate(-90 556.2 110.6)" >Survival probability</text>
<text x="673.4" y="32.3" font-size="9.3" text-anchor="start" fill="#111" font-weight="normal" font-style="normal" >Low points</text>
<text x="668" y="122" font-size="9.3" text-anchor="start" fill="#111" font-weight="normal" font-style="normal" >High points</text>
<text x="586.1" y="149.8" font-size="10.9" text-anchor="start" fill="#111" font-weight="normal" font-style="normal" >p &lt; 0.001</text>
<text x="586.1" y="166" font-size="10.9" text-anchor="start" fill="#111" font-weight="normal" font-style="normal" >Hazard Ratio = 11.09</text>
<text x="586.1" y="182.2" font-size="10.9" text-anchor="start" fill="#111" font-weight="normal" font-style="normal" >95% CI: 4.818 − 25.528</text>
<path d="M586.3 31.4 L589 31.4 L589 31.6 L598.7 31.6 L609.5 31.6 L609.5 32.6 L610.45 32.6 L610.45 33.9 L611.4 33.9 L611.4 35.2 L613.1 35.2 L613.1 36.4 L619 36.4 L619 37 L620.8 37 L620.8 38.3 L631 38.3 L631 38.4 L633.5 38.4 L633.5 40 L635.2 40 L635.2 41.2 L643.6 41.2 L643.6 41.3 L644.45 41.3 L644.45 42.5 L645.3 42.5 L645.3 43.7 L647 43.7 L647 45.1 L763.5 45.1" fill="none" stroke="#1f9ad2" stroke-width="2.7" stroke-linejoin="miter"/>
<path d="M586.3 31.4 L588.5 31.4 L588.5 33.5 L589.67 33.5 L589.67 35.2 L590.83 35.2 L590.83 36.9 L592 36.9 L592 38.6 L592.42 38.6 L592.42 40.3 L592.83 40.3 L592.83 42 L593.25 42 L593.25 43.7 L593.67 43.7 L593.67 45.4 L594.08 45.4 L594.08 47.1 L594.5 47.1 L594.5 48.8 L595.33 48.8 L595.33 50.2 L596.17 50.2 L596.17 51.6 L597 51.6 L597 53 L598.7 53 L598.7 54.7 L600.4 54.7 L600.4 56.4 L601.05 56.4 L601.05 57.9 L601.7 57.9 L601.7 59.4 L602.35 59.4 L602.35 60.9 L603 60.9 L603 62.4 L603.24 62.4 L603.24 64.09 L603.49 64.09 L603.49 65.77 L603.73 65.77 L603.73 67.46 L603.97 67.46 L603.97 69.14 L604.21 69.14 L604.21 70.83 L604.46 70.83 L604.46 72.51 L604.7 72.51 L604.7 74.2 L608 74.2 L608 75 L611.4 75 L611.4 76.8 L615.7 76.8 L615.7 77.6 L616.03 77.6 L616.03 79.3 L616.35 79.3 L616.35 81 L616.67 81 L616.67 82.7 L617 82.7 L617 84.4 L617.42 84.4 L617.42 85.88 L617.85 85.88 L617.85 87.35 L618.28 87.35 L618.28 88.83 L618.7 88.83 L618.7 90.3 L620.8 90.3 L620.8 91.2 L625.8 91.2 L625.95 91.2 L625.95 92.9 L626.1 92.9 L626.1 94.6 L626.25 94.6 L626.25 96.3 L626.4 96.3 L626.4 98 L626.55 98 L626.55 99.7 L626.7 99.7 L626.7 101.4 L627.3 101.4 L627.3 102.65 L627.9 102.65 L627.9 103.9 L632.6 103.9 L632.6 112.4 L636 112.4 L636 113.2 L643.6 113.2 L643.6 136.1 L698.3 136.1" fill="none" stroke="#d6213f" stroke-width="2.8" stroke-linejoin="miter"/>
<path d="M587.86 28.52V33.72M585.56 31.52H590.16M589.02 28.6V33.8M586.72 31.6H591.32M590.72 28.6V33.8M588.42 31.6H593.02M591.56 28.6V33.8M589.26 31.6H593.86M593.23 28.6V33.8M590.93 31.6H595.53M594.39 28.6V33.8M592.09 31.6H596.69M595.45 28.6V33.8M593.15 31.6H597.75M597.11 28.6V33.8M594.81 31.6H599.41M598.03 28.6V33.8M595.73 31.6H600.33M599.65 28.69V33.89M597.35 31.69H601.95M600.66 28.78V33.98M598.36 31.78H602.96M601.97 28.9V34.1M599.67 31.9H604.27M603.54 29.05V34.25M601.24 32.05H605.84M605.16 29.2V34.4M602.86 32.2H607.46M605.9 29.27V34.47M603.6 32.27H608.2M607.28 29.39V34.59M604.98 32.39H609.58M608.9 29.54V34.74M606.6 32.54H611.2M610.46 30.91V36.11M608.16 33.91H612.76M611.46 32.24V37.44M609.16 35.24H613.76M612.62 33.06V38.26M610.32 36.06H614.92M614.38 33.53V38.73M612.08 36.53H616.68M614.94 33.59V38.79M612.64 36.59H617.24M616.89 33.79V38.99M614.59 36.79H619.19M617.73 33.87V39.07M615.43 36.87H620.03M618.92 33.99V39.19M616.62 36.99H621.22M620.19 34.86V40.06M617.89 37.86H622.49M621.65 35.31V40.51M619.35 38.31H623.95M623.35 35.33V40.53M621.05 38.33H625.65M624.14 35.33V40.53M621.84 38.33H626.44M625.77 35.35V40.55M623.47 38.35H628.07M627.11 35.36V40.56M624.81 38.36H629.41M628.2 35.37V40.57M625.9 38.37H630.5M629.64 35.39V40.59M627.34 38.39H631.94M630.55 35.4V40.6M628.25 38.4H632.85M631.85 35.94V41.14M629.55 38.94H634.15M633.26 36.85V42.05M630.96 39.85H635.56M634.94 38.02V43.22M632.64 41.02H637.24M636.04 38.21V43.41M633.74 41.21H638.34M637.25 38.22V43.42M634.95 41.22H639.55M638.77 38.24V43.44M636.47 41.24H641.07M639.96 38.26V43.46M637.66 41.26H642.26M641.14 38.27V43.47M638.84 41.27H643.44M642.84 38.29V43.49M640.54 41.29H645.14M644.06 38.95V44.15M641.76 41.95H646.36M645 40.27V45.47M642.7 43.27H647.3M646.56 41.04V44.74M647.02 41.4V45.1M648.55 41.4V45.1M649.68 41.4V45.1M650.58 41.4V45.1M652.38 41.4V45.1M652.94 41.4V45.1M654.43 41.4V45.1M655.96 41.4V45.1M656.72 41.4V45.1M658.24 41.4V45.1M659.13 41.4V45.1M660.88 41.4V45.1M662.21 41.4V45.1M663.31 41.4V45.1M664.8 41.4V45.1M665.6 41.4V45.1M667.16 41.4V45.1M668.33 41.4V45.1M669.56 41.4V45.1M670.71 41.4V45.1M672.27 41.4V45.1M673.61 41.4V45.1M674.48 41.4V45.1M675.88 41.4V45.1M676.65 41.4V45.1M678.41 41.4V45.1M679.62 41.4V45.1M681.14 41.4V45.1M682.26 41.4V45.1M683.08 41.4V45.1M684.41 41.4V45.1M685.88 41.4V45.1M686.62 41.4V45.1M688.22 41.4V45.1M689.23 41.4V45.1M690.44 41.4V45.1M691.65 41.4V45.1M693.46 41.4V45.1M694.2 41.4V45.1M695.55 41.4V45.1M697.4 41.4V45.1M703.3 41.4V45.1M705.9 41.4V45.1M712.6 41.4V45.1M719.4 41.4V45.1M722.8 41.4V45.1M725.3 41.4V45.1M729.5 41.4V45.1M732 41.4V45.1M734.6 41.4V45.1M741.4 41.4V45.1M743.9 41.4V45.1M747.3 41.4V45.1M758.2 41.4V45.1M760.3 41.4V45.1" stroke="#1f9ad2" stroke-width="0.9" fill="none"/>
<path d="M588.93 31.13V36.33M586.63 34.13H591.23M590.27 33.08V38.28M587.97 36.08H592.57M590.85 33.92V39.12M588.55 36.92H593.15M592.12 36.09V41.29M589.82 39.09H594.42M593.23 40.62V45.82M590.93 43.62H595.53M594.48 45.72V50.92M592.18 48.72H596.78M595.49 47.47V52.67M593.19 50.47H597.79M596.57 49.27V54.47M594.27 52.27H598.87M597.27 50.27V55.47M594.97 53.27H599.57M598.4 51.4V56.6M596.1 54.4H600.7M599.42 52.42V57.62M597.12 55.42H601.72M600.78 54.28V59.48M598.48 57.28H603.08M601.87 56.8V62M599.57 59.8H604.17M602.44 58.11V63.31M600.14 61.11H604.74M603.51 62.91V68.11M601.21 65.91H605.81M604.59 70.43V75.63M602.29 73.43H606.89M605.64 71.43V76.63M603.34 74.43H607.94M606.84 71.72V76.92M604.54 74.72H609.14M607.95 71.99V77.19M605.65 74.99H610.25M608.81 72.43V77.63M606.51 75.43H611.11M609.7 72.9V78.1M607.4 75.9H612M611 73.59V78.79M608.7 76.59H613.3M612.02 73.92V79.12M609.72 76.92H614.32M613.19 74.13V79.33M610.89 77.13H615.49M614.47 74.37V79.57M612.17 77.37H616.77M615.36 74.54V79.74M613.06 77.54H617.66M616.31 77.79V82.99M614.01 80.79H618.61M617.42 82.86V88.06M615.12 85.86H619.72M618.51 86.63V91.83M616.21 89.63H620.81M619.18 87.51V92.71M616.88 90.51H621.48M620.74 88.17V93.37M618.44 91.17H623.04M621.72 88.2V93.4M619.42 91.2H624.02M622.82 88.2V93.4M620.52 91.2H625.12M623.83 88.2V93.4M621.53 91.2H626.13M624.64 88.2V93.4M622.34 91.2H626.94M625.69 88.2V93.4M623.39 91.2H627.99M626.56 96.84V102.04M624.26 99.84H628.86M627.93 100.9V106.1M625.63 103.9H630.23M628.64 100.9V106.1M626.34 103.9H630.94M629.69 100.9V106.1M627.39 103.9H631.99M630.83 100.9V106.1M628.53 103.9H633.13M631.85 100.9V106.1M629.55 103.9H634.15M633 109.5V114.7M630.7 112.5H635.3M633.88 109.7V114.9M631.58 112.7H636.18M634.9 109.94V115.14M632.6 112.94H637.2M636.04 110.2V115.4M633.74 113.2H638.34M637.06 110.2V115.4M634.76 113.2H639.36M638.27 110.2V115.4M635.97 113.2H640.57M639.12 110.2V115.4M636.82 113.2H641.42M640.67 110.2V115.4M638.37 113.2H642.97M647.8 132.4V136.1M650.5 132.4V136.1M660.9 132.4V136.1M672.4 132.4V136.1M674 132.4V136.1M698.3 132.4V136.1" stroke="#d6213f" stroke-width="0.9" fill="none"/>
</g>
<g id="panelC">
<text transform="translate(543.3 249.1) scale(0.81 1)" font-size="14" fill="#111">C</text>
<rect x="581.4" y="235.7" width="182.4" height="175.4" fill="none" stroke="#000" stroke-width="1.2"/>
<line x1="587.9" y1="411.1" x2="587.9" y2="418.1" stroke="#000" stroke-width="1.1" />
<text x="587.9" y="429.7" font-size="11" text-anchor="middle" fill="#000" font-weight="normal" font-style="normal" >0.0</text>
<line x1="581.4" y1="405.2" x2="574.4" y2="405.2" stroke="#000" stroke-width="1.1" />
<text x="570.2" y="405.2" font-size="11" text-anchor="middle" fill="#000" font-weight="normal" font-style="normal" transform="rotate(-90 570.2 405.2)" >0.0</text>
<line x1="621.8" y1="411.1" x2="621.8" y2="418.1" stroke="#000" stroke-width="1.1" />
<text x="621.8" y="429.7" font-size="11" text-anchor="middle" fill="#000" font-weight="normal" font-style="normal" >0.2</text>
<line x1="581.4" y1="372.48" x2="574.4" y2="372.48" stroke="#000" stroke-width="1.1" />
<text x="570.2" y="372.48" font-size="11" text-anchor="middle" fill="#000" font-weight="normal" font-style="normal" transform="rotate(-90 570.2 372.48)" >0.2</text>
<line x1="655.7" y1="411.1" x2="655.7" y2="418.1" stroke="#000" stroke-width="1.1" />
<text x="655.7" y="429.7" font-size="11" text-anchor="middle" fill="#000" font-weight="normal" font-style="normal" >0.4</text>
<line x1="581.4" y1="339.76" x2="574.4" y2="339.76" stroke="#000" stroke-width="1.1" />
<text x="570.2" y="339.76" font-size="11" text-anchor="middle" fill="#000" font-weight="normal" font-style="normal" transform="rotate(-90 570.2 339.76)" >0.4</text>
<line x1="689.6" y1="411.1" x2="689.6" y2="418.1" stroke="#000" stroke-width="1.1" />
<text x="689.6" y="429.7" font-size="11" text-anchor="middle" fill="#000" font-weight="normal" font-style="normal" >0.6</text>
<line x1="581.4" y1="307.04" x2="574.4" y2="307.04" stroke="#000" stroke-width="1.1" />
<text x="570.2" y="307.04" font-size="11" text-anchor="middle" fill="#000" font-weight="normal" font-style="normal" transform="rotate(-90 570.2 307.04)" >0.6</text>
<line x1="723.5" y1="411.1" x2="723.5" y2="418.1" stroke="#000" stroke-width="1.1" />
<text x="723.5" y="429.7" font-size="11" text-anchor="middle" fill="#000" font-weight="normal" font-style="normal" >0.8</text>
<line x1="581.4" y1="274.32" x2="574.4" y2="274.32" stroke="#000" stroke-width="1.1" />
<text x="570.2" y="274.32" font-size="11" text-anchor="middle" fill="#000" font-weight="normal" font-style="normal" transform="rotate(-90 570.2 274.32)" >0.8</text>
<line x1="757.4" y1="411.1" x2="757.4" y2="418.1" stroke="#000" stroke-width="1.1" />
<text x="757.4" y="429.7" font-size="11" text-anchor="middle" fill="#000" font-weight="normal" font-style="normal" >1.0</text>
<line x1="581.4" y1="241.6" x2="574.4" y2="241.6" stroke="#000" stroke-width="1.1" />
<text x="570.2" y="241.6" font-size="11" text-anchor="middle" fill="#000" font-weight="normal" font-style="normal" transform="rotate(-90 570.2 241.6)" >1.0</text>
<text x="672.8" y="443.2" font-size="11" text-anchor="middle" fill="#000" font-weight="normal" font-style="normal" >1−Specificity</text>
<text x="555.3" y="323.9" font-size="11" text-anchor="middle" fill="#000" font-weight="normal" font-style="normal" transform="rotate(-90 555.3 323.9)" >Sensitivity</text>
<line x1="581.4" y1="411.1" x2="763.8" y2="235.6" stroke="#1a1a1a" stroke-width="1.1" stroke-dasharray="4 4.3"/>
<path d="M587.88 405.17 L588.14 374.26 L588.4 351.07 L590.46 351.07 L590.46 343.34 L591.74 343.34 L591.74 333.04 L593.03 333.04 L593.03 324.02 L594.32 324.02 L594.32 304.7 L599.47 304.7 L599.99 295.69 L605.91 295.69 L606.43 285.38 L607.2 285.38 L607.2 277.66 L621.37 277.66 L621.37 268.64 L629.87 268.64 L629.87 259.62 L639.4 259.62 L640.69 259.62 L640.69 250.61 L641.98 250.61 L641.98 241.59 L678.04 241.59 L757.38 241.59" fill="none" stroke="#4a9e32" stroke-width="2.1" stroke-linejoin="miter"/>
<path d="M587.88 405.17 L588.65 394.86 L589.17 384.56 L589.17 374.26 L589.94 374.26 L589.94 363.95 L590.97 363.95 L590.97 351.07 L593.03 351.07 L594.32 340.77 L598.18 340.25 L598.7 329.18 L600.24 329.18 L600.76 321.45 L601.79 321.45 L602.05 307.28 L604.62 303.42 L605.91 303.42 L605.91 291.82 L607.46 291.82 L608.49 281.52 L612.35 278.94 L613.64 272.5 L616.22 268.64 L636.82 268.12 L637.34 262.2 L639.4 262.2 L641.46 257.05 L693.5 257.05 L693.5 250.61 L707.66 250.09 L708.44 245.46 L711.53 244.94 L712.3 241.59 L757.38 241.59" fill="none" stroke="#f26a21" stroke-width="2.1" stroke-linejoin="miter"/>
<path d="M587.88 405.17 L587.62 384.56 L587.88 345.92 L589.94 345.4 L589.94 300.84 L592.52 300.07 L592.52 289.25 L595.61 287.19 L596.12 277.66 L607.2 277.66 L607.97 272.5 L610.55 272.5 L611.06 269.93 L611.84 269.93 L611.84 262.2 L613.64 261.43 L613.64 252.67 L647.13 252.67 L647.64 247.52 L669.02 247.52 L669.8 244.17 L677.52 243.65 L678.04 241.59 L757.38 241.59" fill="none" stroke="#3b1060" stroke-width="2.1" stroke-linejoin="miter"/>
<line x1="621.4" y1="371.2" x2="641.5" y2="371.2" stroke="#4a9e32" stroke-width="2.1" />
<text x="651.5" y="375.2" font-size="10.9" text-anchor="start" fill="#000" font-weight="normal" font-style="normal" >AUC at 1 years: 0.915</text>
<line x1="621.4" y1="384.7" x2="641.5" y2="384.7" stroke="#f26a21" stroke-width="2.1" />
<text x="651.5" y="388.7" font-size="10.9" text-anchor="start" fill="#000" font-weight="normal" font-style="normal" >AUC at 3 years: 0.868</text>
<line x1="621.4" y1="398.2" x2="641.5" y2="398.2" stroke="#3b1060" stroke-width="2.1" />
<text x="651.5" y="402.2" font-size="10.9" text-anchor="start" fill="#000" font-weight="normal" font-style="normal" >AUC at 5 years: 0.941</text>
</g>
<g id="panelD">
<text transform="translate(0.1 476.6) scale(0.9 1)" font-size="14" fill="#111">D</text>
<clipPath id="clipD"><rect x="41.4" y="481.9" width="206" height="199.4"/></clipPath>
<line x1="52.18" y1="677.43" x2="248.45" y2="491.56" stroke="#c9c9c9" stroke-width="1.9" stroke-dasharray="14.5 5.5" clip-path="url(#clipD)"/>
<path d="M48.9 673.3 L49.89 672.78 L51.27 672.06 L52.89 671.21 L54.63 670.27 L56.35 669.32 L57.9 668.4 L59.32 667.49 L60.73 666.53 L62.11 665.55 L63.45 664.57 L64.75 663.61 L66 662.7 L67.18 661.87 L68.29 661.13 L69.35 660.4 L70.39 659.64 L71.44 658.79 L72.5 657.8 L73.6 656.58 L74.73 655.17 L75.85 653.67 L76.95 652.19 L78.01 650.83 L79 649.7 L79.89 648.82 L80.69 648.11 L81.45 647.53 L82.21 647.02 L83.01 646.56 L83.9 646.1 L84.89 645.69 L85.95 645.36 L87.05 645.08 L88.17 644.79 L89.3 644.45 L90.4 644 L91.48 643.45 L92.57 642.84 L93.65 642.18 L94.73 641.46 L95.82 640.7 L96.9 639.9 L97.98 639.08 L99.07 638.24 L100.15 637.35 L101.23 636.4 L102.32 635.35 L103.4 634.2 L104.48 632.87 L105.57 631.38 L106.65 629.8 L107.73 628.21 L108.82 626.68 L109.9 625.3 L111 624.02 L112.13 622.77 L113.25 621.59 L114.35 620.51 L115.41 619.57 L116.4 618.8 L117.3 618.25 L118.12 617.89 L118.9 617.67 L119.67 617.52 L120.46 617.39 L121.3 617.2 L122.21 617.02 L123.17 616.92 L124.15 616.83 L125.13 616.69 L126.09 616.43 L127 616 L127.84 615.45 L128.61 614.85 L129.36 614.13 L130.13 613.24 L130.97 612.12 L131.9 610.7 L132.95 608.85 L134.09 606.59 L135.29 604.09 L136.52 601.54 L137.77 599.12 L139 597 L140.25 595.15 L141.54 593.41 L142.84 591.79 L144.12 590.31 L145.35 588.98 L146.5 587.8 L147.55 586.83 L148.51 586.07 L149.43 585.45 L150.32 584.91 L151.24 584.38 L152.2 583.8 L153.21 583.2 L154.25 582.66 L155.3 582.12 L156.36 581.56 L157.43 580.93 L158.5 580.2 L159.55 579.41 L160.59 578.61 L161.64 577.74 L162.71 576.76 L163.82 575.63 L165 574.3 L166.29 572.68 L167.67 570.79 L169.1 568.74 L170.52 566.66 L171.87 564.67 L173.1 562.9 L174.1 561.47 L174.91 560.32 L175.64 559.26 L176.45 558.1 L177.46 556.68 L178.8 554.8 L180.58 552.31 L182.71 549.32 L185.05 546.06 L187.44 542.75 L189.74 539.62 L191.8 536.9 L193.61 534.62 L195.27 532.62 L196.85 530.79 L198.38 529.06 L199.92 527.32 L201.5 525.5 L203.21 523.48 L205.03 521.32 L206.86 519.16 L208.58 517.14 L210.09 515.4 L211.3 514.1 L212.13 513.3 L212.64 512.92 L212.96 512.82 L213.17 512.88 L213.38 512.98 L213.7 513 L214.05 513.06 L214.32 513.28 L214.59 513.54 L214.95 513.71 L215.46 513.67 L216.2 513.3 L217.24 512.5 L218.54 511.34 L220 509.97 L221.51 508.54 L222.98 507.17 L224.3 506 L225.49 505.05 L226.64 504.22 L227.75 503.45 L228.81 502.7 L229.83 501.94 L230.8 501.1 L231.71 500.2 L232.55 499.26 L233.35 498.29 L234.13 497.32 L234.9 496.35 L235.7 495.4 L236.57 494.4 L237.51 493.32 L238.46 492.24 L239.33 491.25 L240.07 490.41 L240.6 489.8" fill="none" stroke="#f26a21" stroke-width="2.1" stroke-linejoin="round" stroke-linecap="round"/>
<rect x="41.4" y="481.9" width="206" height="199.4" fill="none" stroke="#000" stroke-width="1.2"/>
<line x1="67.1" y1="681.3" x2="67.1" y2="688.8" stroke="#000" stroke-width="1.1" />
<line x1="41.4" y1="663.3" x2="33.9" y2="663.3" stroke="#000" stroke-width="1.1" />
<text x="67.1" y="702.7" font-size="12" text-anchor="middle" fill="#000" font-weight="normal" font-style="normal" >0.05</text>
<text x="27.8" y="663.3" font-size="12" text-anchor="middle" fill="#000" font-weight="normal" font-style="normal" transform="rotate(-90 27.8 663.3)" >0.05</text>
<line x1="96.35" y1="681.3" x2="96.35" y2="688.8" stroke="#000" stroke-width="1.1" />
<line x1="41.4" y1="635.6" x2="33.9" y2="635.6" stroke="#000" stroke-width="1.1" />
<line x1="125.6" y1="681.3" x2="125.6" y2="688.8" stroke="#000" stroke-width="1.1" />
<line x1="41.4" y1="607.9" x2="33.9" y2="607.9" stroke="#000" stroke-width="1.1" />
<text x="125.6" y="702.7" font-size="12" text-anchor="middle" fill="#000" font-weight="normal" font-style="normal" >0.15</text>
<text x="27.8" y="607.9" font-size="12" text-anchor="middle" fill="#000" font-weight="normal" font-style="normal" transform="rotate(-90 27.8 607.9)" >0.15</text>
<line x1="154.85" y1="681.3" x2="154.85" y2="688.8" stroke="#000" stroke-width="1.1" />
<line x1="41.4" y1="580.2" x2="33.9" y2="580.2" stroke="#000" stroke-width="1.1" />
<line x1="184.1" y1="681.3" x2="184.1" y2="688.8" stroke="#000" stroke-width="1.1" />
<line x1="41.4" y1="552.5" x2="33.9" y2="552.5" stroke="#000" stroke-width="1.1" />
<text x="184.1" y="702.7" font-size="12" text-anchor="middle" fill="#000" font-weight="normal" font-style="normal" >0.25</text>
<text x="27.8" y="552.5" font-size="12" text-anchor="middle" fill="#000" font-weight="normal" font-style="normal" transform="rotate(-90 27.8 552.5)" >0.25</text>
<line x1="213.35" y1="681.3" x2="213.35" y2="688.8" stroke="#000" stroke-width="1.1" />
<line x1="41.4" y1="524.8" x2="33.9" y2="524.8" stroke="#000" stroke-width="1.1" />
<line x1="242.6" y1="681.3" x2="242.6" y2="688.8" stroke="#000" stroke-width="1.1" />
<line x1="41.4" y1="497.1" x2="33.9" y2="497.1" stroke="#000" stroke-width="1.1" />
<text x="242.6" y="702.7" font-size="12" text-anchor="middle" fill="#000" font-weight="normal" font-style="normal" >0.35</text>
<text x="27.8" y="497.1" font-size="12" text-anchor="middle" fill="#000" font-weight="normal" font-style="normal" transform="rotate(-90 27.8 497.1)" >0.35</text>
<text x="145" y="717.3" font-size="12.4" text-anchor="middle" fill="#000" font-weight="normal" font-style="normal" >Nomogram Predicted Probability</text>
<text x="10.6" y="597" font-size="12.4" text-anchor="middle" fill="#000" font-weight="normal" font-style="normal" transform="rotate(-90 10.6 597)" >Actual Events rate</text>
<line x1="51.8" y1="497.2" x2="76.7" y2="497.2" stroke="#c9c9c9" stroke-width="1.9" stroke-dasharray="15.5 4.5"/>
<line x1="51.8" y1="512.5" x2="76.7" y2="512.5" stroke="#f26a21" stroke-width="2.1" />
<text x="86.3" y="501.5" font-size="12.4" text-anchor="start" fill="#000" font-weight="normal" font-style="normal" >Actural</text>
<text x="86.3" y="516.8" font-size="12.4" text-anchor="start" fill="#000" font-weight="normal" font-style="normal" >Nomogram</text>
<text x="67.1" y="668.2" font-size="12.4" fill="#000">Hosmer−Lemeshow <tspan font-style="italic">P</tspan> <tspan dx="3">=</tspan> <tspan dx="3">0.96</tspan></text>
</g>
<g id="panelE">
<text transform="translate(268.3 476.6) scale(0.75 1)" font-size="14" fill="#111">E</text>
<line x1="324.8" y1="477.5" x2="324.8" y2="637.5" stroke="#e4e4e4" stroke-width="0.9" />
<line x1="369.2" y1="477.5" x2="369.2" y2="637.5" stroke="#e4e4e4" stroke-width="0.9" />
<line x1="413.6" y1="477.5" x2="413.6" y2="637.5" stroke="#e4e4e4" stroke-width="0.9" />
<line x1="458" y1="477.5" x2="458" y2="637.5" stroke="#e4e4e4" stroke-width="0.9" />
<line x1="502.4" y1="477.5" x2="502.4" y2="637.5" stroke="#e4e4e4" stroke-width="0.9" />
<line x1="317" y1="636" x2="509.3" y2="636" stroke="#e4e4e4" stroke-width="0.9" />
<line x1="317" y1="607.08" x2="509.3" y2="607.08" stroke="#e4e4e4" stroke-width="0.9" />
<line x1="317" y1="578.16" x2="509.3" y2="578.16" stroke="#e4e4e4" stroke-width="0.9" />
<line x1="317" y1="549.24" x2="509.3" y2="549.24" stroke="#e4e4e4" stroke-width="0.9" />
<line x1="317" y1="520.32" x2="509.3" y2="520.32" stroke="#e4e4e4" stroke-width="0.9" />
<line x1="317" y1="491.4" x2="509.3" y2="491.4" stroke="#e4e4e4" stroke-width="0.9" />
<clipPath id="clipE"><rect x="318" y="480" width="191.3" height="160"/></clipPath>
<path d="M324.8 491.1 L326.75 491.1 L329.58 491.09 L332.76 491.09 L335.75 491.09 L338 491.1 L339.34 491.05 L340.14 490.94 L340.65 490.86 L341.12 490.95 L341.8 491.3 L342.67 491.81 L343.57 492.42 L344.51 493.26 L345.55 494.51 L346.7 496.3 L348.04 498.85 L349.56 502.05 L351.14 505.59 L352.66 509.18 L354 512.5 L355.13 515.49 L356.13 518.34 L357.06 521.17 L357.96 524.09 L358.9 527.2 L359.83 530.59 L360.71 534.17 L361.61 537.84 L362.62 541.49 L363.8 545 L365.2 548.36 L366.77 551.63 L368.44 554.85 L370.17 558.06 L371.9 561.3 L373.62 564.61 L375.36 567.98 L377.15 571.32 L378.99 574.55 L380.9 577.6 L382.86 580.48 L384.87 583.23 L386.95 585.85 L389.12 588.32 L391.4 590.6 L393.79 592.66 L396.27 594.5 L398.85 596.2 L401.56 597.84 L404.4 599.5 L407.41 601.16 L410.58 602.77 L413.86 604.36 L417.21 605.93 L420.6 607.5 L424.12 609.13 L427.79 610.8 L431.47 612.43 L435.02 613.96 L438.3 615.3 L441.23 616.42 L443.9 617.36 L446.43 618.18 L448.93 618.94 L451.5 619.7 L454.08 620.43 L456.6 621.1 L459.16 621.73 L461.86 622.36 L464.8 623 L467.91 623.67 L471.13 624.34 L474.55 625.01 L478.31 625.67 L482.5 626.3 L487.71 626.95 L493.85 627.63 L500.07 628.27 L505.51 628.81 L509.3 629.2" fill="none" stroke="#f26a21" stroke-width="1.25" clip-path="url(#clipE)"/>
<path d="M324.8 491.1 L325.1 491.63 L325.51 492.28 L326 493.18 L326.57 494.47 L327.2 496.3 L327.9 498.83 L328.68 501.98 L329.53 505.48 L330.41 509.08 L331.3 512.5 L332.2 515.76 L333.13 519.02 L334.08 522.28 L335.07 525.54 L336.1 528.8 L337.2 532.04 L338.35 535.28 L339.53 538.52 L340.7 541.76 L341.8 545 L342.83 548.28 L343.82 551.59 L344.78 554.9 L345.73 558.15 L346.7 561.3 L347.64 564.36 L348.54 567.36 L349.47 570.29 L350.47 573.14 L351.6 575.9 L352.87 578.56 L354.23 581.11 L355.68 583.6 L357.24 586.05 L358.9 588.5 L360.71 590.97 L362.66 593.44 L364.7 595.87 L366.73 598.24 L368.7 600.5 L370.58 602.64 L372.42 604.69 L374.25 606.67 L376.1 608.6 L378 610.5 L379.96 612.39 L381.95 614.24 L383.97 616.06 L385.99 617.81 L388 619.5 L390.02 621.14 L392.05 622.75 L394.07 624.29 L396.06 625.72 L398 627 L399.86 628.11 L401.66 629.08 L403.43 629.94 L405.2 630.73 L407 631.5 L408.83 632.26 L410.68 632.97 L412.54 633.63 L414.38 634.22 L416.2 634.7 L417.73 635.07 L418.97 635.34 L420.33 635.53 L422.21 635.68 L425 635.8 L428.41 635.89 L432.19 635.92 L436.75 635.92 L442.55 635.9 L450 635.9 L460.61 635.91 L474.1 635.91 L488.2 635.9 L500.69 635.9 L509.3 635.9" fill="none" stroke="#f26a21" stroke-width="1.25" clip-path="url(#clipE)"/>
<path d="M324.8 491.1 L325.39 491.12 L326.23 491.13 L327.2 491.16 L328.16 491.21 L329 491.3 L329.69 491.38 L330.31 491.46 L330.91 491.58 L331.49 491.8 L332.1 492.2 L332.69 492.62 L333.25 493.03 L333.84 493.64 L334.5 494.65 L335.3 496.3 L336.27 498.76 L337.36 501.9 L338.54 505.43 L339.77 509.06 L341 512.5 L342.26 515.76 L343.58 519.02 L344.92 522.28 L346.24 525.54 L347.5 528.8 L348.69 532.07 L349.84 535.36 L350.96 538.63 L352.07 541.86 L353.2 545 L354.35 548.14 L355.52 551.3 L356.68 554.37 L357.81 557.21 L358.9 559.7 L359.93 561.72 L360.92 563.33 L361.88 564.75 L362.83 566.18 L363.8 567.8 L364.78 569.65 L365.76 571.6 L366.75 573.61 L367.73 575.62 L368.7 577.6 L369.66 579.62 L370.62 581.72 L371.58 583.77 L372.54 585.67 L373.5 587.3 L374.42 588.55 L375.3 589.49 L376.2 590.3 L377.21 591.14 L378.4 592.2 L379.82 593.5 L381.43 594.91 L383.14 596.41 L384.85 597.96 L386.5 599.5 L387.98 601.02 L389.34 602.55 L390.74 604.12 L392.31 605.76 L394.2 607.5 L396.49 609.44 L399.08 611.57 L401.86 613.73 L404.67 615.76 L407.4 617.5 L409.97 618.89 L412.46 620.02 L415 621.02 L417.67 621.97 L420.6 623 L423.92 624.15 L427.57 625.34 L431.33 626.51 L434.98 627.59 L438.3 628.5 L441.23 629.2 L443.9 629.73 L446.43 630.18 L448.93 630.61 L451.5 631.1 L454.08 631.69 L456.6 632.32 L459.16 632.94 L461.86 633.52 L464.8 634 L467.91 634.38 L471.13 634.67 L474.55 634.91 L478.31 635.12 L482.5 635.3 L487.71 635.46 L493.85 635.58 L500.07 635.67 L505.51 635.74 L509.3 635.8" fill="none" stroke="#f26a21" stroke-width="2.3" clip-path="url(#clipE)"/>
<path d="M324.8 616.2 L327.49 616.3 L331.39 616.43 L335.79 616.59 L339.97 616.75 L343.2 616.9 L345.06 616.98 L346.02 617.01 L346.74 617.06 L347.85 617.23 L350 617.6 L353.44 618.26 L357.74 619.16 L362.53 620.16 L367.44 621.12 L372.1 621.9 L376.52 622.46 L380.94 622.9 L385.37 623.27 L389.79 623.65 L394.2 624.1 L398.6 624.66 L403 625.28 L407.4 625.91 L411.8 626.5 L416.2 627 L420.61 627.39 L425.03 627.7 L429.46 627.97 L433.88 628.22 L438.3 628.5 L442.72 628.8 L447.14 629.1 L451.56 629.41 L455.98 629.71 L460.4 630 L464.74 630.29 L469.01 630.58 L473.32 630.87 L477.78 631.14 L482.5 631.4 L487.99 631.66 L494.17 631.91 L500.28 632.15 L505.58 632.36 L509.3 632.5" fill="none" stroke="#111" stroke-width="1.1" stroke-dasharray="4.2 3.9" clip-path="url(#clipE)"/>
<path d="M324.8 624 L326.85 624.22 L329.78 624.54 L333.15 624.91 L336.5 625.31 L339.4 625.7 L341.73 626.09 L343.8 626.51 L345.76 626.93 L347.78 627.37 L350 627.8 L352.44 628.23 L354.98 628.67 L357.63 629.11 L360.37 629.55 L363.2 630 L366.15 630.46 L369.23 630.94 L372.39 631.42 L375.56 631.88 L378.7 632.3 L381.84 632.69 L385.01 633.05 L388.17 633.39 L391.25 633.71 L394.2 634 L397.06 634.26 L399.86 634.5 L402.55 634.72 L405.08 634.92 L407.4 635.1 L409.04 635.28 L410.04 635.44 L411.09 635.58 L412.91 635.7 L416.2 635.8 L420.95 635.86 L426.7 635.89 L433.44 635.9 L441.21 635.9 L450 635.9 L461.18 635.91 L474.73 635.91 L488.63 635.9 L500.83 635.9 L509.3 635.9" fill="none" stroke="#111" stroke-width="1.1" stroke-dasharray="4.2 3.9" clip-path="url(#clipE)"/>
<path d="M324.8 620.8 L328 620.94 L332.62 621.14 L337.87 621.38 L342.96 621.64 L347.1 621.9 L350.02 622.14 L352.26 622.37 L354.2 622.63 L356.25 622.96 L358.8 623.4 L361.99 624.01 L365.56 624.76 L369.3 625.56 L373.01 626.34 L376.5 627 L379.73 627.54 L382.82 628.01 L385.84 628.44 L388.85 628.83 L391.9 629.2 L395 629.53 L398.1 629.82 L401.2 630.08 L404.3 630.37 L407.4 630.7 L410.48 631.11 L413.56 631.58 L416.64 632.07 L419.72 632.52 L422.8 632.9 L425.86 633.2 L428.89 633.45 L431.94 633.66 L435.06 633.84 L438.3 634 L441.7 634.14 L445.23 634.24 L448.82 634.32 L452.43 634.4 L456 634.5 L459.24 634.61 L462.18 634.73 L465.26 634.85 L468.92 634.97 L473.6 635.1 L480.15 635.24 L488.29 635.41 L496.72 635.57 L504.16 635.7 L509.3 635.8" fill="none" stroke="#111" stroke-width="2.4" stroke-dasharray="7.6 8.6" clip-path="url(#clipE)"/>
<line x1="316.4" y1="636.6" x2="316.4" y2="490.8" stroke="#000" stroke-width="1.3" />
<line x1="316.4" y1="636" x2="309.2" y2="636" stroke="#000" stroke-width="1.2" />
<line x1="316.4" y1="607.08" x2="309.2" y2="607.08" stroke="#000" stroke-width="1.2" />
<line x1="316.4" y1="578.16" x2="309.2" y2="578.16" stroke="#000" stroke-width="1.2" />
<line x1="316.4" y1="549.24" x2="309.2" y2="549.24" stroke="#000" stroke-width="1.2" />
<line x1="316.4" y1="520.32" x2="309.2" y2="520.32" stroke="#000" stroke-width="1.2" />
<line x1="316.4" y1="491.4" x2="309.2" y2="491.4" stroke="#000" stroke-width="1.2" />
<text x="301.2" y="636" font-size="11.3" text-anchor="middle" fill="#000" font-weight="normal" font-style="normal" transform="rotate(-90 301.2 636)" >0</text>
<text x="301.2" y="607.08" font-size="11.3" text-anchor="middle" fill="#000" font-weight="normal" font-style="normal" transform="rotate(-90 301.2 607.08)" >200</text>
<text x="301.2" y="549.24" font-size="11.3" text-anchor="middle" fill="#000" font-weight="normal" font-style="normal" transform="rotate(-90 301.2 549.24)" >600</text>
<text x="301.2" y="491.4" font-size="11.3" text-anchor="middle" fill="#000" font-weight="normal" font-style="normal" transform="rotate(-90 301.2 491.4)" >1000</text>
<line x1="324.2" y1="643" x2="503" y2="643" stroke="#000" stroke-width="1.3" />
<line x1="324.8" y1="643" x2="324.8" y2="650.2" stroke="#000" stroke-width="1.2" />
<text x="324.8" y="668" font-size="11.3" text-anchor="middle" fill="#000" font-weight="normal" font-style="normal" >0.0</text>
<line x1="369.2" y1="643" x2="369.2" y2="650.2" stroke="#000" stroke-width="1.2" />
<text x="369.2" y="668" font-size="11.3" text-anchor="middle" fill="#000" font-weight="normal" font-style="normal" >0.1</text>
<line x1="413.6" y1="643" x2="413.6" y2="650.2" stroke="#000" stroke-width="1.2" />
<text x="413.6" y="668" font-size="11.3" text-anchor="middle" fill="#000" font-weight="normal" font-style="normal" >0.2</text>
<line x1="458" y1="643" x2="458" y2="650.2" stroke="#000" stroke-width="1.2" />
<text x="458" y="668" font-size="11.3" text-anchor="middle" fill="#000" font-weight="normal" font-style="normal" >0.3</text>
<line x1="502.4" y1="643" x2="502.4" y2="650.2" stroke="#000" stroke-width="1.2" />
<text x="502.4" y="668" font-size="11.3" text-anchor="middle" fill="#000" font-weight="normal" font-style="normal" >0.4</text>
<text x="413.4" y="684.2" font-size="11.7" text-anchor="middle" fill="#000" font-weight="normal" font-style="normal" >High Risk Threshold</text>
<text x="286.8" y="559.2" font-size="11.7" text-anchor="middle" fill="#000" font-weight="normal" font-style="normal" transform="rotate(-90 286.8 559.2)" >Number high risk (out of 1000)</text>
<line x1="328.6" y1="697.8" x2="503" y2="697.8" stroke="#000" stroke-width="1.3" />
<line x1="329.2" y1="697.8" x2="329.2" y2="705" stroke="#000" stroke-width="1.2" />
<text x="329.2" y="722.9" font-size="11.3" text-anchor="middle" fill="#000" font-weight="normal" font-style="normal" >1:100</text>
<line x1="365.16" y1="697.8" x2="365.16" y2="705" stroke="#000" stroke-width="1.2" />
<text x="365.16" y="722.9" font-size="11.3" text-anchor="middle" fill="#000" font-weight="normal" font-style="normal" >1:10</text>
<line x1="398.81" y1="697.8" x2="398.81" y2="705" stroke="#000" stroke-width="1.2" />
<text x="398.81" y="722.9" font-size="11.3" text-anchor="middle" fill="#000" font-weight="normal" font-style="normal" >1:5</text>
<line x1="435.8" y1="697.8" x2="435.8" y2="705" stroke="#000" stroke-width="1.2" />
<text x="435.8" y="722.9" font-size="11.3" text-anchor="middle" fill="#000" font-weight="normal" font-style="normal" >1:3</text>
<line x1="472.79" y1="697.8" x2="472.79" y2="705" stroke="#000" stroke-width="1.2" />
<text x="472.79" y="722.9" font-size="11.3" text-anchor="middle" fill="#000" font-weight="normal" font-style="normal" >1:2</text>
<line x1="502.4" y1="697.8" x2="502.4" y2="705" stroke="#000" stroke-width="1.2" />
<text x="502.4" y="722.9" font-size="11.3" text-anchor="middle" fill="#000" font-weight="normal" font-style="normal" >2:3</text>
<text x="413.4" y="738" font-size="11.7" text-anchor="middle" fill="#000" font-weight="normal" font-style="normal" >Cost:Benefit Ratio</text>
<rect x="358.4" y="478.2" width="151" height="33" fill="none" stroke="#000" stroke-width="1"/>
<line x1="366.2" y1="489.5" x2="383.5" y2="489.5" stroke="#f26a21" stroke-width="2.2" />
<line x1="366.2" y1="500.6" x2="383.5" y2="500.6" stroke="#111" stroke-width="1.1" stroke-dasharray="4 3.2"/>
<text x="391.7" y="492.8" font-size="9.2" text-anchor="start" fill="#000" font-weight="normal" font-style="normal" >Number high risk</text>
<text x="391.7" y="503.9" font-size="9.2" text-anchor="start" fill="#000" font-weight="normal" font-style="normal" >Number high risk with event</text>
</g>
<g id="panelF">
<text transform="translate(543.1 476.3) scale(0.77 1)" font-size="14" fill="#111">F</text>
<line x1="574.8" y1="488" x2="574.8" y2="681" stroke="#e4e4e4" stroke-width="0.9" />
<line x1="612.16" y1="488" x2="612.16" y2="681" stroke="#e4e4e4" stroke-width="0.9" />
<line x1="649.52" y1="488" x2="649.52" y2="681" stroke="#e4e4e4" stroke-width="0.9" />
<line x1="686.88" y1="488" x2="686.88" y2="681" stroke="#e4e4e4" stroke-width="0.9" />
<line x1="724.24" y1="488" x2="724.24" y2="681" stroke="#e4e4e4" stroke-width="0.9" />
<line x1="761.6" y1="488" x2="761.6" y2="681" stroke="#e4e4e4" stroke-width="0.9" />
<line x1="568" y1="513.2" x2="770" y2="513.2" stroke="#e4e4e4" stroke-width="0.9" />
<line x1="568" y1="567.5" x2="770" y2="567.5" stroke="#e4e4e4" stroke-width="0.9" />
<line x1="568" y1="621.8" x2="770" y2="621.8" stroke="#e4e4e4" stroke-width="0.9" />
<line x1="568" y1="676.1" x2="770" y2="676.1" stroke="#e4e4e4" stroke-width="0.9" />
<clipPath id="clipF"><rect x="567" y="486" width="203" height="196.3"/></clipPath>
<path d="M574.8 505.6 L575.73 510.47 L576.67 515.39 L577.6 520.37 L578.54 525.39 L579.47 530.46 L580.4 535.59 L581.34 540.77 L582.27 546.01 L583.21 551.3 L584.14 556.64 L585.07 562.04 L586.01 567.5 L586.94 573.02 L587.88 578.59 L588.81 584.23 L589.74 589.93 L590.68 595.69 L591.61 601.51 L592.55 607.4 L593.48 613.35 L594.41 619.37 L595.35 625.46 L596.28 631.62 L597.22 637.84 L598.15 644.14 L599.08 650.51 L600.02 656.95 L600.95 663.47 L601.89 670.07 L602.82 676.74 L603.75 683.49 L604.69 690.32 L605.62 697.23 L606.56 704.23 L607.49 711.31 L608.42 718.48 L609.36 725.74 L610.29 733.08 L611.23 740.52" fill="none" stroke="#6f9be0" stroke-width="1.0" clip-path="url(#clipF)"/>
<path d="M597.22 621.8 L759.73 621.8" fill="none" stroke="#d43a34" stroke-width="1.0" />
<path d="M578.54 525.39 L579.47 530.46 L580.4 535.59 L581.3 541.2 L584 551 L587 562.5 L590 575 L592.7 585.3 L595.5 588 L598.4 591 L600.5 593 L602.7 596.7 L605.5 603.8 L608 607 L611.2 609.5 L614 608.3 L616.9 608 L619.8 609.5 L621 612 L622.6 618 L624.5 617.6 L626.9 616.6 L629 615 L631.1 613.8 L633 615.5 L634.6 615.7 L636.5 614 L638.3 614.6 L639.8 617 L641.1 619.4 L642.5 622.5 L643.9 624.6 L645.5 624.8 L646.8 624.3 L648.5 623 L650.5 622.3" fill="none" stroke="#cf2a27" stroke-width="2.0" stroke-linejoin="round"/>
<path d="M588.81 584.23 L589.74 589.93 L590.68 595.69 L603.4 621.8 L759.73 621.8" fill="none" stroke="#8fbf4a" stroke-width="2.0" stroke-linejoin="round"/>
<path d="M586.94 573.02 L587.88 578.59 L588.81 584.23 L604.4 621.8 L759.73 621.8" fill="none" stroke="#f47b20" stroke-width="2.0" stroke-linejoin="round"/>
<path d="M574.8 505.6 L575.73 510.47 L576.67 515.39 L577.6 520.37 L578.54 525.39 L579.47 530.46 L580.4 535.59 L581.34 540.77 L582.27 546.01 L583.21 551.3 L584.14 556.64 L585.07 562.04 L586.01 567.5 L586.94 573.02 L587.88 578.59 L588.81 584.23 L589.74 589.93 L590.68 595.69 L591.61 601.51 L592.55 607.4 L593.48 613.35 L594.97 620.17 L596.1 621.8 L759.73 621.8" fill="none" stroke="#1594ad" stroke-width="2.1" stroke-linejoin="round"/>
<line x1="567.6" y1="512.6" x2="567.6" y2="676.7" stroke="#000" stroke-width="1.3" />
<line x1="567.6" y1="513.2" x2="560.1" y2="513.2" stroke="#000" stroke-width="1.2" />
<text x="555.4" y="513.2" font-size="12.3" text-anchor="middle" fill="#000" font-weight="normal" font-style="normal" transform="rotate(-90 555.4 513.2)" >0.10</text>
<line x1="567.6" y1="567.5" x2="560.1" y2="567.5" stroke="#000" stroke-width="1.2" />
<text x="555.4" y="567.5" font-size="12.3" text-anchor="middle" fill="#000" font-weight="normal" font-style="normal" transform="rotate(-90 555.4 567.5)" >0.05</text>
<line x1="567.6" y1="621.8" x2="560.1" y2="621.8" stroke="#000" stroke-width="1.2" />
<text x="555.4" y="621.8" font-size="12.3" text-anchor="middle" fill="#000" font-weight="normal" font-style="normal" transform="rotate(-90 555.4 621.8)" >0.00</text>
<line x1="567.6" y1="676.1" x2="560.1" y2="676.1" stroke="#000" stroke-width="1.2" />
<text x="555.4" y="676.1" font-size="12.3" text-anchor="middle" fill="#000" font-weight="normal" font-style="normal" transform="rotate(-90 555.4 676.1)" >−0.05</text>
<line x1="574.2" y1="683.5" x2="762.2" y2="683.5" stroke="#000" stroke-width="1.3" />
<line x1="574.8" y1="683.5" x2="574.8" y2="691" stroke="#000" stroke-width="1.2" />
<text x="574.8" y="703" font-size="11.6" text-anchor="middle" fill="#000" font-weight="normal" font-style="normal" >0.0</text>
<line x1="612.16" y1="683.5" x2="612.16" y2="691" stroke="#000" stroke-width="1.2" />
<text x="612.16" y="703" font-size="11.6" text-anchor="middle" fill="#000" font-weight="normal" font-style="normal" >0.2</text>
<line x1="649.52" y1="683.5" x2="649.52" y2="691" stroke="#000" stroke-width="1.2" />
<text x="649.52" y="703" font-size="11.6" text-anchor="middle" fill="#000" font-weight="normal" font-style="normal" >0.4</text>
<line x1="686.88" y1="683.5" x2="686.88" y2="691" stroke="#000" stroke-width="1.2" />
<text x="686.88" y="703" font-size="11.6" text-anchor="middle" fill="#000" font-weight="normal" font-style="normal" >0.6</text>
<line x1="724.24" y1="683.5" x2="724.24" y2="691" stroke="#000" stroke-width="1.2" />
<text x="724.24" y="703" font-size="11.6" text-anchor="middle" fill="#000" font-weight="normal" font-style="normal" >0.8</text>
<line x1="761.6" y1="683.5" x2="761.6" y2="691" stroke="#000" stroke-width="1.2" />
<text x="761.6" y="703" font-size="11.6" text-anchor="middle" fill="#000" font-weight="normal" font-style="normal" >1.0</text>
<text x="667.6" y="718.2" font-size="12.2" text-anchor="middle" fill="#000" font-weight="normal" font-style="normal" >Threshold probability</text>
<text x="537.7" y="585.4" font-size="12.2" text-anchor="middle" fill="#000" font-weight="normal" font-style="normal" transform="rotate(-90 537.7 585.4)" >Net Benefit</text>
<rect x="660" y="488.5" width="109.4" height="102.6" fill="#fff" stroke="#000" stroke-width="1"/>
<line x1="670.3" y1="502.8" x2="693.8" y2="502.8" stroke="#cf2a27" stroke-width="2.0" />
<text x="704" y="507.1" font-size="12.2" text-anchor="start" fill="#000" font-weight="normal" font-style="normal" >Nomogram</text>
<line x1="670.3" y1="517.5" x2="693.8" y2="517.5" stroke="#8fbf4a" stroke-width="2.0" />
<text x="704" y="521.8" font-size="12.2" text-anchor="start" fill="#000" font-weight="normal" font-style="normal" >Age</text>
<line x1="670.3" y1="532.2" x2="693.8" y2="532.2" stroke="#f47b20" stroke-width="2.0" />
<text x="704" y="536.5" font-size="12.2" text-anchor="start" fill="#000" font-weight="normal" font-style="normal" >Stage</text>
<line x1="670.3" y1="546.9" x2="693.8" y2="546.9" stroke="#1594ad" stroke-width="2.1" />
<text x="704" y="551.2" font-size="12.2" text-anchor="start" fill="#000" font-weight="normal" font-style="normal" >Gender</text>
<line x1="670.3" y1="561.6" x2="693.8" y2="561.6" stroke="#6f9be0" stroke-width="1.2" />
<text x="704" y="565.9" font-size="12.2" text-anchor="start" fill="#000" font-weight="normal" font-style="normal" >All</text>
<line x1="670.3" y1="576.3" x2="693.8" y2="576.3" stroke="#d43a34" stroke-width="1.25" />
<text x="704" y="580.6" font-size="12.2" text-anchor="start" fill="#000" font-weight="normal" font-style="normal" >None</text>
</g>
</svg>
</body></html>
